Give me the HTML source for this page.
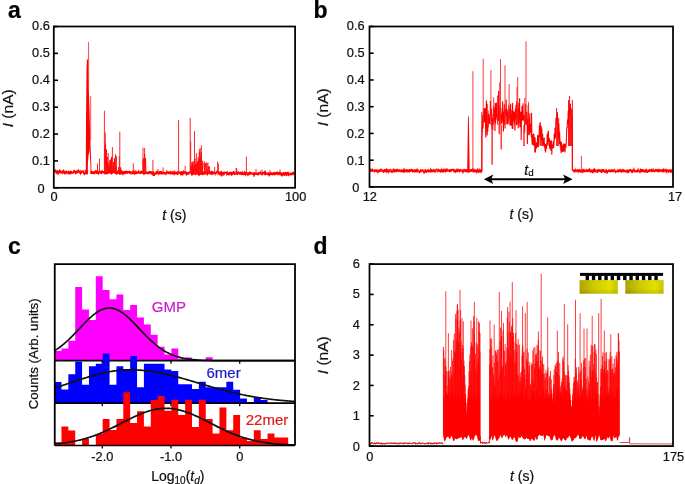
<!DOCTYPE html>
<html><head><meta charset="utf-8"><style>
html,body{margin:0;padding:0;background:#fff;}
svg{display:block;font-family:"Liberation Sans",sans-serif;will-change:transform;}
text{stroke-width:0.22px;}
</style></head><body>
<svg width="685" height="484" viewBox="0 0 685 484">
<rect width="685" height="484" fill="#fff"/>
<text x="14.5" y="18.3" font-size="23" text-anchor="middle" font-weight="bold" fill="#000" stroke="#000">a</text>
<text x="320.6" y="18.3" font-size="23" text-anchor="middle" font-weight="bold" fill="#000" stroke="#000">b</text>
<text x="14.3" y="254" font-size="23" text-anchor="middle" font-weight="bold" fill="#000" stroke="#000">c</text>
<text x="320.5" y="254.4" font-size="23" text-anchor="middle" font-weight="bold" fill="#000" stroke="#000">d</text>
<polyline points="54.3,171.4 54.5,170.55 54.7,170.5 54.9,171.78 55.1,171.75 55.3,171.07 55.5,172.27 55.7,170.47 55.9,170.81 56.1,173.09 56.3,172.49 56.5,170.53 56.7,172.63 56.9,172.31 57.1,173.03 57.3,172.28 57.5,172.81 57.7,170.73 57.9,170.85 58.1,172.6 58.3,173.31 58.5,172.36 58.7,173.19 58.9,172.6 59.1,172.54 59.3,171.31 59.5,170.42 59.7,170.74 59.9,170.79 60.1,173.31 60.3,172.22 60.5,173.29 60.7,171.57 60.9,170.87 61.1,171.15 61.3,172.3 61.5,171.61 61.7,172.71 61.9,172.66 62.1,173.01 62.3,171.7 62.5,172.52 62.7,171.08 62.9,170.92 63.1,170.71 63.3,173.34 63.5,171.23 63.7,170.79 63.9,171.96 64.1,170.72 64.3,173.2 64.5,173.61 64.7,173.55 64.9,173.71 65.1,171.27 65.3,173.01 65.5,171.51 65.7,173.74 65.9,173.17 66.1,172.15 66.3,170.49 66.5,172.75 66.7,173.58 66.9,171.64 67.1,171.07 67.3,173.46 67.5,172.62 67.7,172.65 67.9,172.96 68.1,173.09 68.3,173.71 68.5,173.63 68.7,170.84 68.9,173.15 69.1,173.75 69.3,172.28 69.5,173.72 69.7,173.59 69.9,173.23 70.1,171.42 70.3,171.3 70.5,173.52 70.7,172.41 70.9,173.55 71.1,173.31 71.3,173.05 71.5,171.02 71.7,172.33 71.9,172.32 72.1,172.34 72.3,173.06 72.5,173.02 72.7,172.52 72.9,172.8 73.1,172.07 73.3,173.43 73.5,172.35 73.7,170.91 73.9,170.7 74.1,172.73 74.3,170.98 74.5,170.94 74.7,171.2 74.9,172.11 75.1,171.01 75.3,171.61 75.5,174.3 75.7,172.79 75.9,172.59 76.1,173.82 76.3,170.82 76.5,173.12 76.7,171.91 76.9,171.35 77.1,172.41 77.3,170.67 77.5,170.72 77.7,173.2 77.9,170.71 78.1,171.63 78.3,171.39 78.5,171.29 78.7,170.66 78.9,171.52 79.1,172.19 79.3,170.55 79.5,172.98 79.7,172.11 79.9,173.28 80.1,173.33 80.3,172.84 80.5,173.33 80.7,171.88 80.9,170.94 81.1,171.37 81.3,173.37 81.5,171.47 81.7,172.07 81.9,171.4 82.1,172.37 82.3,171.57 82.5,171.81 82.7,171.2 82.9,171.42 83.1,171.42 83.3,171.31 83.5,173.07 83.7,173.51 83.9,173.87 84.1,172.71 84.3,173.56 84.5,173.29 84.7,172.25 84.9,173.34 85.1,172.86 85.3,170.64 85.5,170.89 85.7,172.67 85.9,174.2 86.1,173.09 86.3,172.78 86.5,171.4 86.7,173.03 86.9,173.86 87.1,172.18 87.3,172.65 87.5,171.05 87.7,171.59 87.9,170.76 88.1,172.91 88.3,172.31 88.5,170.96 88.7,173.89 88.9,172.12 89.1,172.09 89.3,173.78 89.5,171.05 89.7,171.02 89.9,173.58 90.1,173.62 90.3,170.58 90.5,171.6 90.7,171.65 90.9,173.13 91.1,173.73 91.3,171.57 91.5,173.98 91.7,172.04 91.9,170.93 92.1,173.77 92.3,172.32 92.5,173.84 92.7,172.74 92.9,172.46 93.1,173.08 93.3,172.79 93.5,173.75 93.7,171.77 93.9,173.92 94.1,171.62 94.3,171.17 94.5,173.68 94.7,173.69 94.9,171.08 95.1,171.77 95.3,171.49 95.5,173.16 95.7,172.39 95.9,170.83 96.1,171.04 96.3,173.55 96.5,171.46 96.7,173.86 96.9,170.7 97.1,173.67 97.3,170.63 97.5,173.43 97.7,171.47 97.9,172.41 98.1,173.08 98.3,172.19 98.5,173.29 98.7,172.83 98.9,171.49 99.1,171.02 99.3,172.62 99.5,173.44 99.7,172.21 99.9,173.65 100.1,171.49 100.3,172.94 100.5,172.94 100.7,172.92 100.9,170.77 101.1,172.97 101.3,173.17 101.5,173.95 101.7,171.44 101.9,171.66 102.1,171.3 102.3,172.92 102.5,172 102.7,171.15 102.9,172 103.1,173.16 103.3,171.79 103.5,173.21 103.7,171.96 103.9,171.95 104.1,171.87 104.3,173.96 104.5,173.47 104.7,170.85 104.9,173.81 105.1,173.73 105.3,173.44 105.5,170.8 105.7,171.56 105.9,171.84 106.1,172.79 106.3,171.77 106.5,173.26 106.7,174.49 106.9,172.31 107.1,172.01 107.3,172.38 107.5,173.43 107.7,173.33 107.9,171.79 108.1,170.97 108.3,171.55 108.5,172.59 108.7,173.71 108.9,171 109.1,173.13 109.3,172.13 109.5,173.26 109.7,171.13 109.9,172.65 110.1,171.4 110.3,171.24 110.5,171.83 110.7,172.45 110.9,172.95 111.1,172.34 111.3,173.84 111.5,171.14 111.7,172.71 111.9,173.68 112.1,173.38 112.3,172.76 112.5,171.99 112.7,171.61 112.9,172.25 113.1,173.05 113.3,171.44 113.5,170.96 113.7,172.62 113.9,171.3 114.1,171.71 114.3,171.81 114.5,172.17 114.7,171.99 114.9,173.7 115.1,172.2 115.3,173.76 115.5,170.81 115.7,173.86 115.9,172.02 116.1,171.73 116.3,171.14 116.5,174.06 116.7,173.98 116.9,170.95 117.1,173.85 117.3,171.32 117.5,172.15 117.7,171.4 117.9,172.54 118.1,171.62 118.3,170.92 118.5,170.91 118.7,172.82 118.9,171.83 119.1,172.23 119.3,173.83 119.5,172.45 119.7,173.44 119.9,172.4 120.1,172.26 120.3,172.53 120.5,171.08 120.7,172.54 120.9,172.09 121.1,173.72 121.3,173.57 121.5,172.48 121.7,171.37 121.9,171.03 122.1,171.35 122.3,173.58 122.5,173.94 122.7,172.53 122.9,171.43 123.1,173.13 123.3,173.49 123.5,172.98 123.7,172.71 123.9,171.18 124.1,172.16 124.3,174.19 124.5,173.43 124.7,173.36 124.9,171.69 125.1,172.82 125.3,170.84 125.5,172.93 125.7,173.88 125.9,173.06 126.1,172.05 126.3,171.6 126.5,171.54 126.7,171.3 126.9,171.35 127.1,173.81 127.3,173.36 127.5,172.76 127.7,172.36 127.9,171.7 128.1,172.66 128.3,171.05 128.5,172.73 128.7,171.54 128.9,173.04 129.1,171.91 129.3,173.89 129.5,170.89 129.7,172.45 129.9,171.64 130.1,171 130.3,173.23 130.5,171.78 130.7,173.55 130.9,173.06 131.1,174.52 131.3,171.68 131.5,173.42 131.7,172 131.9,173.03 132.1,174.21 132.3,173.26 132.5,173.35 132.7,171.61 132.9,173.99 133.1,171.25 133.3,171.48 133.5,173.25 133.7,173.4 133.9,172.13 134.1,173.93 134.3,174.01 134.5,171.6 134.7,173.79 134.9,173.71 135.1,171.25 135.3,171.6 135.5,170.98 135.7,173.34 135.9,174.19 136.1,173.02 136.3,172.4 136.5,173.31 136.7,173.85 136.9,172 137.1,173.51 137.3,172.59 137.5,171.55 137.7,173.75 137.9,171.89 138.1,172.62 138.3,171.21 138.5,173.61 138.7,172.3 138.9,171.23 139.1,171.64 139.3,172.64 139.5,171.73 139.7,173.51 139.9,172.13 140.1,173.81 140.3,171.52 140.5,172.92 140.7,173.96 140.9,171.97 141.1,171.48 141.3,172.06 141.5,172.07 141.7,173.43 141.9,171.3 142.1,173.66 142.3,171.63 142.5,171.66 142.7,172.32 142.9,172.67 143.1,171.45 143.3,173.49 143.5,172.92 143.7,171.75 143.9,173.6 144.1,173.28 144.3,172.04 144.5,172.4 144.7,173.12 144.9,172.53 145.1,173.28 145.3,173.21 145.5,172.65 145.7,172.83 145.9,174.19 146.1,172.94 146.3,172.73 146.5,172.77 146.7,171.71 146.9,173.59 147.1,172.2 147.3,173.4 147.5,172.43 147.7,171.9 147.9,174.2 148.1,173.73 148.3,171.44 148.5,173.16 148.7,171.78 148.9,173.18 149.1,172.6 149.3,171.44 149.5,173.91 149.7,171.88 149.9,171.03 150.1,171.85 150.3,172.48 150.5,172.25 150.7,171.22 150.9,173.69 151.1,173.21 151.3,174.26 151.5,171.37 151.7,173.67 151.9,174.11 152.1,174.06 152.3,173.31 152.5,173.89 152.7,172.84 152.9,174.04 153.1,171.84 153.3,171.24 153.5,172.71 153.7,176.08 153.9,172.64 154.1,173.91 154.3,174.32 154.5,174.74 154.7,173.37 154.9,174.39 155.1,174.11 155.3,173.18 155.5,172.3 155.7,173.68 155.9,172.5 156.1,172.06 156.3,172.78 156.5,174.38 156.7,172.19 156.9,173.06 157.1,171.21 157.3,172.93 157.5,171.09 157.7,173.14 157.9,174.17 158.1,173.21 158.3,173.39 158.5,172.64 158.7,171.7 158.9,174.19 159.1,173.88 159.3,171.96 159.5,172.17 159.7,174.27 159.9,171.23 160.1,173.05 160.3,171.14 160.5,174.28 160.7,172.5 160.9,171.82 161.1,171.12 161.3,174.39 161.5,173.34 161.7,171.93 161.9,171.28 162.1,174.02 162.3,173.25 162.5,174.28 162.7,173.59 162.9,173.33 163.1,172.17 163.3,174.04 163.5,172.37 163.7,173.42 163.9,172.36 164.1,172.54 164.3,174.34 164.5,172.12 164.7,173.52 164.9,173.19 165.1,173.17 165.3,174.15 165.5,173.18 165.7,172.76 165.9,172.57 166.1,174.15 166.3,173.9 166.5,172.07 166.7,173.47 166.9,171.43 167.1,171.83 167.3,171.94 167.5,172.73 167.7,173.7 167.9,171.45 168.1,171.94 168.3,174.16 168.5,173.16 168.7,171.77 168.9,173.08 169.1,171.67 169.3,172.43 169.5,173.84 169.7,172.34 169.9,171.28 170.1,172.82 170.3,173.82 170.5,173.78 170.7,172.04 170.9,171.79 171.1,173.07 171.3,174.4 171.5,173.21 171.7,174.44 171.9,173.36 172.1,172.52 172.3,174.47 172.5,171.32 172.7,174.26 172.9,171.35 173.1,173.39 173.3,171.68 173.5,173.49 173.7,173.77 173.9,172.07 174.1,171.77 174.3,175.3 174.5,171.86 174.7,171.95 174.9,174.22 175.1,171.53 175.3,173.34 175.5,174.01 175.7,171.69 175.9,173.64 176.1,174.17 176.3,171.74 176.5,172.35 176.7,172.3 176.9,174.55 177.1,173.49 177.3,172.19 177.5,172.46 177.7,174.37 177.9,174.27 178.1,172.23 178.3,173.97 178.5,171.24 178.7,171.86 178.9,171.98 179.1,171.85 179.3,171.9 179.5,173.31 179.7,171.94 179.9,174 180.1,171.47 180.3,173.7 180.5,172.38 180.7,175.2 180.9,172.87 181.1,171.88 181.3,171.81 181.5,171.27 181.7,173.01 181.9,174.03 182.1,173.68 182.3,171.47 182.5,172.94 182.7,175.51 182.9,172.02 183.1,172.12 183.3,171.59 183.5,171.33 183.7,173.05 183.9,174.23 184.1,171.69 184.3,172.22 184.5,171.74 184.7,171.78 184.9,171.84 185.1,172.6 185.3,173.07 185.5,173.92 185.7,172.42 185.9,174.02 186.1,174.17 186.3,174.55 186.5,172.73 186.7,173.1 186.9,173.36 187.1,174.59 187.3,173.45 187.5,174.31 187.7,172.2 187.9,173.14 188.1,172.15 188.3,174.54 188.5,173.51 188.7,174.56 188.9,172.89 189.1,171.73 189.3,172.69 189.5,171.61 189.7,173.39 189.9,172 190.1,173.18 190.3,172.37 190.5,173.06 190.7,171.36 190.9,172.13 191.1,172.29 191.3,173.95 191.5,174.29 191.7,172.65 191.9,171.7 192.1,173.84 192.3,172.53 192.5,174.22 192.7,173.85 192.9,172.95 193.1,174.45 193.3,171.36 193.5,173.03 193.7,172.76 193.9,173.41 194.1,172.9 194.3,172.68 194.5,172.44 194.7,173.05 194.9,172.39 195.1,173.33 195.3,172.46 195.5,174.62 195.7,174.57 195.9,173.28 196.1,173.99 196.3,173.12 196.5,172.69 196.7,172.56 196.9,173.15 197.1,172.73 197.3,174.36 197.5,172.87 197.7,172.54 197.9,171.96 198.1,174.18 198.3,174.42 198.5,174.75 198.7,171.91 198.9,173.1 199.1,173.53 199.3,174.76 199.5,172.79 199.7,174.5 199.9,174.25 200.1,172.06 200.3,172.3 200.5,174.78 200.7,171.81 200.9,171.76 201.1,173.18 201.3,174.14 201.5,174.02 201.7,172.61 201.9,171.74 202.1,172.59 202.3,171.59 202.5,174.67 202.7,172.26 202.9,174.32 203.1,174.19 203.3,174.68 203.5,172.24 203.7,172.17 203.9,173.07 204.1,172.01 204.3,174.73 204.5,171.81 204.7,172.8 204.9,174.23 205.1,172.08 205.3,171.55 205.5,171.96 205.7,172.35 205.9,172.94 206.1,171.98 206.3,172.72 206.5,174.67 206.7,172.98 206.9,172.33 207.1,172.69 207.3,172.17 207.5,173.19 207.7,174.07 207.9,173.38 208.1,171.74 208.3,172.54 208.5,173.36 208.7,172.47 208.9,172.23 209.1,172.42 209.3,174.09 209.5,171.91 209.7,173.77 209.9,172.87 210.1,172.31 210.3,173.61 210.5,174.57 210.7,171.61 210.9,172.15 211.1,171.61 211.3,172.09 211.5,173.91 211.7,173.8 211.9,174.32 212.1,171.63 212.3,171.64 212.5,174.17 212.7,174.03 212.9,172.83 213.1,172.44 213.3,172.93 213.5,174 213.7,173.03 213.9,172.95 214.1,171.93 214.3,173.89 214.5,173.36 214.7,173.35 214.9,172.72 215.1,172.56 215.3,173.78 215.5,173.26 215.7,172.7 215.9,171.99 216.1,174.28 216.3,172.09 216.5,173.08 216.7,171.9 216.9,172.22 217.1,172.19 217.3,171.9 217.5,172.76 217.7,171.56 217.9,171.81 218.1,173.44 218.3,173 218.5,171.56 218.7,173.66 218.9,172.39 219.1,171.63 219.3,172.54 219.5,174.41 219.7,174.21 219.9,172.65 220.1,172.63 220.3,172.8 220.5,171.68 220.7,174.33 220.9,174.76 221.1,172.08 221.3,171.82 221.5,173.06 221.7,171.69 221.9,176.11 222.1,174.46 222.3,172.52 222.5,172.99 222.7,173.82 222.9,172.12 223.1,173.48 223.3,171.85 223.5,174.87 223.7,174.88 223.9,174.33 224.1,173.64 224.3,174.81 224.5,172.59 224.7,171.67 224.9,173.1 225.1,172.84 225.3,173.38 225.5,171.97 225.7,173.45 225.9,172.45 226.1,172.44 226.3,172.36 226.5,173.33 226.7,172.98 226.9,174.53 227.1,174.17 227.3,174.05 227.5,172.93 227.7,173.51 227.9,174.24 228.1,174.35 228.3,172.33 228.5,173.05 228.7,174.57 228.9,174.57 229.1,172.77 229.3,174.42 229.5,174.12 229.7,171.76 229.9,173.48 230.1,174.76 230.3,172.27 230.5,173.59 230.7,172 230.9,173.51 231.1,172.92 231.3,173.45 231.5,175.71 231.7,172.14 231.9,174.35 232.1,174.41 232.3,173.25 232.5,172.97 232.7,171.89 232.9,174.68 233.1,172.21 233.3,173.6 233.5,171.66 233.7,171.71 233.9,171.8 234.1,172.57 234.3,172.54 234.5,174.9 234.7,173.56 234.9,174.28 235.1,172.89 235.3,174.62 235.5,172.69 235.7,173.39 235.9,173.53 236.1,172.81 236.3,173.3 236.5,172.46 236.7,171.69 236.9,173.18 237.1,172.24 237.3,172.72 237.5,174.86 237.7,173.66 237.9,173.65 238.1,174.31 238.3,171.91 238.5,172.62 238.7,172.24 238.9,172.42 239.1,173.73 239.3,172.35 239.5,173.73 239.7,174.66 239.9,172.33 240.1,173.87 240.3,172.8 240.5,173.07 240.7,171.89 240.9,173.83 241.1,173.73 241.3,171.74 241.5,175.06 241.7,174.16 241.9,172.23 242.1,172.01 242.3,173.54 242.5,173.94 242.7,174.23 242.9,174.31 243.1,174.34 243.3,172.66 243.5,173.35 243.7,173.94 243.9,175.08 244.1,172.36 244.3,171.93 244.5,172.34 244.7,172.23 244.9,174.86 245.1,174.37 245.3,173.42 245.5,174.45 245.7,174.8 245.9,171.96 246.1,174.67 246.3,173.13 246.5,173.87 246.7,172.63 246.9,172.43 247.1,172.76 247.3,173.68 247.5,174.7 247.7,174.54 247.9,173.4 248.1,174.07 248.3,173.72 248.5,174.76 248.7,174.69 248.9,175.14 249.1,172.14 249.3,174.86 249.5,172.09 249.7,172.07 249.9,174.2 250.1,171.88 250.3,174.11 250.5,172.55 250.7,171.84 250.9,174.76 251.1,172.23 251.3,174.1 251.5,173.48 251.7,173.46 251.9,172.51 252.1,174.27 252.3,172.68 252.5,173.51 252.7,174.74 252.9,174.01 253.1,174.13 253.3,174.23 253.5,173.21 253.7,173.1 253.9,176.71 254.1,174.94 254.3,173.08 254.5,172.19 254.7,174.89 254.9,172.9 255.1,172.87 255.3,174.34 255.5,173.82 255.7,173.95 255.9,174.23 256.1,173.89 256.3,173.95 256.5,173.89 256.7,173.42 256.9,173.44 257.1,174.97 257.3,173.61 257.5,172.41 257.7,174 257.9,174.77 258.1,174.65 258.3,172.35 258.5,173.04 258.7,173.37 258.9,175.22 259.1,173.46 259.3,172.34 259.5,173.6 259.7,172.99 259.9,172.52 260.1,172.45 260.3,172.94 260.5,172.15 260.7,172.53 260.9,173.95 261.1,173.35 261.3,172.85 261.5,174.61 261.7,173.82 261.9,175.16 262.1,174.12 262.3,174.43 262.5,173.55 262.7,171.95 262.9,173.43 263.1,173.47 263.3,173.53 263.5,174.14 263.7,172 263.9,174.48 264.1,172.62 264.3,172.22 264.5,173.79 264.7,174.29 264.9,174.22 265.1,175.27 265.3,172.37 265.5,171.9 265.7,172.77 265.9,174.8 266.1,173.31 266.3,174.83 266.5,172.76 266.7,173.71 266.9,173.55 267.1,174.62 267.3,173.78 267.5,173.71 267.7,173 267.9,172.89 268.1,173.91 268.3,173.41 268.5,173.38 268.7,174.84 268.9,172.52 269.1,174.63 269.3,174.2 269.5,174.76 269.7,172.61 269.9,174.58 270.1,174.15 270.3,174.25 270.5,174.28 270.7,172.92 270.9,173 271.1,175.02 271.3,172.44 271.5,173.26 271.7,174.1 271.9,172.25 272.1,173.39 272.3,174.75 272.5,175.32 272.7,172.92 272.9,173.62 273.1,173.58 273.3,173.78 273.5,172.86 273.7,172.71 273.9,173.98 274.1,175.15 274.3,173.08 274.5,174.47 274.7,172.96 274.9,172.27 275.1,173.98 275.3,173.7 275.5,172.4 275.7,173.23 275.9,172.53 276.1,174.82 276.3,172.47 276.5,172.36 276.7,172.36 276.9,173.78 277.1,172.64 277.3,172.4 277.5,173.67 277.7,175.18 277.9,173.91 278.1,174.52 278.3,172.08 278.5,172.97 278.7,173.94 278.9,174.64 279.1,172.82 279.3,172.12 279.5,174.75 279.7,173.56 279.9,175.18 280.1,172.29 280.3,174.3 280.5,172.47 280.7,173.12 280.9,174.69 281.1,174.65 281.3,174.16 281.5,174.87 281.7,174.44 281.9,175.29 282.1,172.46 282.3,175.08 282.5,174.73 282.7,174.81 282.9,173.03 283.1,175.23 283.3,174.69 283.5,172.8 283.7,172.82 283.9,174.35 284.1,174.68 284.3,175.22 284.5,172.32 284.7,173.18 284.9,175.94 285.1,172.08 285.3,173.45 285.5,173.17 285.7,174.9 285.9,172.33 286.1,173.54 286.3,172.44 286.5,174.83 286.7,175.29 286.9,175.06 287.1,173.38 287.3,173.76 287.5,174.87 287.7,172.05 287.9,173.59 288.1,173.25 288.3,174.98 288.5,175.21 288.7,172.31 288.9,175.31 289.1,174.2 289.3,174.36 289.5,173.29 289.7,174.9 289.9,173.58 290.1,174.54 290.3,173.17 290.5,175.1 290.7,174.03 290.9,174.61 291.1,174.66 291.3,173.5 291.5,174.81 291.7,175.35 291.9,173.02 292.1,174.89 292.3,172.55 292.5,172.63 292.7,173.14 292.9,173.39 293.1,172.72 293.3,172.76 293.5,172.46 293.7,173.4 293.9,172.78 294.1,174.94 294.3,173.16 294.5,173.69" fill="none" stroke="#f00" stroke-width="1.25" stroke-linejoin="miter"/>
<polygon points="87.9,176 88,160 88.7,154 89.5,152 90.2,160 90.4,176" fill="#fff" stroke="none" stroke-width="0"/>
<polygon points="85.8,174.2 86,120 86.5,72 86.9,59.5 88.2,59.5 88.5,80 89.7,115 90.2,140 89.5,150 88.6,155 87.9,163 87.8,174.2" fill="#f00" stroke="none" stroke-width="0"/>
<polygon points="89,148 90.3,138 90.9,155 91.4,168 91.6,173 90.7,173 90.3,162 89.7,153" fill="#f00" stroke="none" stroke-width="0"/>
<line x1="88.6" y1="90" x2="88.6" y2="42" stroke="#f33" stroke-width="0.9"/>
<line x1="90.7" y1="140" x2="90.7" y2="96" stroke="#f22" stroke-width="0.8"/>
<polyline points="104.5,146.54 104.95,171.33 105.4,143.48 105.85,173.25 106.3,149.41 106.75,171.37 107.2,156.82 107.65,171.28 108.1,162.8 108.55,170.62 109,166.57 109.45,172.2 109.9,160.25 110.35,173.32 110.8,159.32 111.25,171.23 111.7,156.88 112.15,172.15 112.6,166.75 113.05,172.53 113.5,162.28 113.95,172.92 114.4,158.36 114.85,171.42 115.3,166.43 115.75,173.4 116.2,167.47 116.65,172.58 117.1,170.64 117.55,171.68 118,174.16 118.45,172.73 118.9,167.07 119.35,171.68 119.8,174.85 120.25,171.55 120.7,167.46 121.15,173.11" fill="none" stroke="#f00" stroke-width="0.9" stroke-linejoin="miter"/>
<polyline points="142.8,160.32 143.25,172.06 143.7,157.94 144.15,173.2 144.6,154.34 145.05,171.52 145.5,158.16 145.95,171.74" fill="none" stroke="#f00" stroke-width="0.9" stroke-linejoin="miter"/>
<polyline points="190.4,165.02 190.85,173.06 191.3,166.18 191.75,172.23 192.2,163.04 192.65,172.22 193.1,161.24 193.55,173.03 194,165.88 194.45,173.02 194.9,158.61 195.35,172.51 195.8,163.74 196.25,172 196.7,164.28 197.15,173.2 197.6,161.53 198.05,172.96 198.5,159.24 198.95,173.14 199.4,152.51 199.85,172.61 200.3,156.44 200.75,172.34 201.2,151.95 201.65,170.7 202.1,160.63 202.55,172.97 203,162.73" fill="none" stroke="#f00" stroke-width="0.9" stroke-linejoin="miter"/>
<polyline points="204,163.28 204.8,171.17 205.6,163.36 206.4,172.53 207.2,169.45 208,172.91 208.8,166.56 209.6,172.6" fill="none" stroke="#f00" stroke-width="0.9" stroke-linejoin="miter"/>
<line x1="97.5" y1="173" x2="97.5" y2="163.6" stroke="#f11" stroke-width="0.9"/>
<line x1="99.5" y1="173" x2="99.5" y2="158.7" stroke="#f11" stroke-width="0.9"/>
<line x1="104.4" y1="173" x2="104.4" y2="110.7" stroke="#f11" stroke-width="0.9"/>
<line x1="105.3" y1="173" x2="105.3" y2="132.4" stroke="#f11" stroke-width="0.9"/>
<line x1="108.2" y1="173" x2="108.2" y2="152.9" stroke="#f11" stroke-width="0.9"/>
<line x1="112.4" y1="173" x2="112.4" y2="147.1" stroke="#f11" stroke-width="0.9"/>
<line x1="115.5" y1="173" x2="115.5" y2="154.2" stroke="#f11" stroke-width="0.9"/>
<line x1="116.5" y1="173" x2="116.5" y2="156.2" stroke="#f11" stroke-width="0.9"/>
<line x1="119.3" y1="173" x2="119.3" y2="156" stroke="#f11" stroke-width="0.9"/>
<line x1="119.8" y1="173" x2="119.8" y2="131.7" stroke="#f11" stroke-width="0.9"/>
<line x1="133.3" y1="173" x2="133.3" y2="163.3" stroke="#f11" stroke-width="0.9"/>
<line x1="143" y1="173" x2="143" y2="147.6" stroke="#f11" stroke-width="0.9"/>
<line x1="144.6" y1="173" x2="144.6" y2="148" stroke="#f11" stroke-width="0.9"/>
<line x1="152.9" y1="173" x2="152.9" y2="159.8" stroke="#f11" stroke-width="0.9"/>
<line x1="157.8" y1="173" x2="157.8" y2="169" stroke="#f11" stroke-width="0.9"/>
<line x1="163.1" y1="173" x2="163.1" y2="167.4" stroke="#f11" stroke-width="0.9"/>
<line x1="178.6" y1="173" x2="178.6" y2="119.8" stroke="#f11" stroke-width="0.9"/>
<line x1="185.2" y1="173" x2="185.2" y2="165.8" stroke="#f11" stroke-width="0.9"/>
<line x1="190.2" y1="173" x2="190.2" y2="117.9" stroke="#f11" stroke-width="0.9"/>
<line x1="190.7" y1="173" x2="190.7" y2="141.3" stroke="#f11" stroke-width="0.9"/>
<line x1="191.8" y1="173" x2="191.8" y2="162" stroke="#f11" stroke-width="0.9"/>
<line x1="194.5" y1="173" x2="194.5" y2="131.1" stroke="#f11" stroke-width="0.9"/>
<line x1="196.4" y1="173" x2="196.4" y2="153.2" stroke="#f11" stroke-width="0.9"/>
<line x1="198.1" y1="173" x2="198.1" y2="157" stroke="#f11" stroke-width="0.9"/>
<line x1="199.4" y1="173" x2="199.4" y2="149.3" stroke="#f11" stroke-width="0.9"/>
<line x1="200.2" y1="173" x2="200.2" y2="148" stroke="#f11" stroke-width="0.9"/>
<line x1="201.4" y1="173" x2="201.4" y2="145.5" stroke="#f11" stroke-width="0.9"/>
<line x1="204.4" y1="173" x2="204.4" y2="161.2" stroke="#f11" stroke-width="0.9"/>
<line x1="206.4" y1="173" x2="206.4" y2="162.5" stroke="#f11" stroke-width="0.9"/>
<line x1="207.2" y1="173" x2="207.2" y2="163" stroke="#f11" stroke-width="0.9"/>
<line x1="208" y1="173" x2="208" y2="162.5" stroke="#f11" stroke-width="0.9"/>
<line x1="209.2" y1="173" x2="209.2" y2="166" stroke="#f11" stroke-width="0.9"/>
<line x1="214.6" y1="173" x2="214.6" y2="167" stroke="#f11" stroke-width="0.9"/>
<line x1="217.6" y1="173" x2="217.6" y2="161.5" stroke="#f11" stroke-width="0.9"/>
<line x1="218.4" y1="173" x2="218.4" y2="163.6" stroke="#f11" stroke-width="0.9"/>
<line x1="236.1" y1="173" x2="236.1" y2="167.8" stroke="#f11" stroke-width="0.9"/>
<line x1="236.7" y1="173" x2="236.7" y2="168" stroke="#f11" stroke-width="0.9"/>
<line x1="246.4" y1="173" x2="246.4" y2="156.5" stroke="#f11" stroke-width="0.9"/>
<line x1="256" y1="173" x2="256" y2="169" stroke="#f11" stroke-width="0.9"/>
<line x1="262" y1="173" x2="262" y2="169.5" stroke="#f11" stroke-width="0.9"/>
<line x1="270" y1="173" x2="270" y2="170" stroke="#f11" stroke-width="0.9"/>
<line x1="280" y1="173" x2="280" y2="169.5" stroke="#f11" stroke-width="0.9"/>
<rect x="53.8" y="26.5" width="241.3" height="161.3" fill="none" stroke="#000" stroke-width="1.75"/>
<line x1="53.8" y1="187.8" x2="58" y2="187.8" stroke="#000" stroke-width="1.6"/>
<text x="41" y="192.55" font-size="12.8" text-anchor="middle" font-weight="normal" fill="#111" stroke="#111">0</text>
<line x1="53.8" y1="160.92" x2="58" y2="160.92" stroke="#000" stroke-width="1.6"/>
<text x="41" y="165.47" font-size="12.8" text-anchor="middle" font-weight="normal" fill="#111" stroke="#111">0.1</text>
<line x1="53.8" y1="134.03" x2="58" y2="134.03" stroke="#000" stroke-width="1.6"/>
<text x="41" y="138.38" font-size="12.8" text-anchor="middle" font-weight="normal" fill="#111" stroke="#111">0.2</text>
<line x1="53.8" y1="107.15" x2="58" y2="107.15" stroke="#000" stroke-width="1.6"/>
<text x="41" y="111.3" font-size="12.8" text-anchor="middle" font-weight="normal" fill="#111" stroke="#111">0.3</text>
<line x1="53.8" y1="80.27" x2="58" y2="80.27" stroke="#000" stroke-width="1.6"/>
<text x="41" y="84.22" font-size="12.8" text-anchor="middle" font-weight="normal" fill="#111" stroke="#111">0.4</text>
<line x1="53.8" y1="53.38" x2="58" y2="53.38" stroke="#000" stroke-width="1.6"/>
<text x="41" y="57.13" font-size="12.8" text-anchor="middle" font-weight="normal" fill="#111" stroke="#111">0.5</text>
<line x1="53.8" y1="26.5" x2="58" y2="26.5" stroke="#000" stroke-width="1.6"/>
<text x="41" y="30.05" font-size="12.8" text-anchor="middle" font-weight="normal" fill="#111" stroke="#111">0.6</text>
<text x="54.1" y="201.1" font-size="12.8" text-anchor="middle" font-weight="normal" fill="#111" stroke="#111">0</text>
<text x="295.6" y="201.1" font-size="12.8" text-anchor="middle" font-weight="normal" fill="#111" stroke="#111">100</text>
<text x="174.4" y="219.8" font-size="14" text-anchor="middle" fill="#111" stroke="#111"><tspan font-style="italic">t</tspan> (s)</text>
<text x="12.7" y="108.3" font-size="15.5" text-anchor="middle" fill="#111" stroke="#111" transform="rotate(-90 12.7 108.3)"><tspan font-style="italic">I</tspan> (nA)</text>
<polyline points="370,169.35 370.2,171.95 370.4,170.21 370.6,169.11 370.8,171.24 371,169.57 371.2,170.04 371.4,169.3 371.6,170.62 371.8,170.99 372,171.85 372.2,169.23 372.4,171.91 372.6,169.48 372.8,169.86 373,171.24 373.2,170.26 373.4,170.23 373.6,171.03 373.8,169.84 374,171.8 374.2,169.81 374.4,171.95 374.6,171.85 374.8,170.93 375,169.2 375.2,171.75 375.4,169.2 375.6,170.82 375.8,170.54 376,169.31 376.2,171.24 376.4,171.56 376.6,171.09 376.8,170.46 377,170.84 377.2,171.1 377.4,169.87 377.6,172.05 377.8,172.49 378,171.83 378.2,172.37 378.4,170.22 378.6,172.45 378.8,169.34 379,170.72 379.2,169.55 379.4,170.64 379.6,171.42 379.8,171.51 380,170.65 380.2,170.26 380.4,169.75 380.6,170.47 380.8,170.06 381,169.76 381.2,171.6 381.4,170.86 381.6,170.59 381.8,169.77 382,171.49 382.2,169.77 382.4,170 382.6,171 382.8,171.48 383,172.41 383.2,171.64 383.4,172.32 383.6,172.23 383.8,171.56 384,171.55 384.2,169.31 384.4,169.8 384.6,169.14 384.8,172.04 385,171.55 385.2,171.24 385.4,170 385.6,170.31 385.8,169.66 386,171.25 386.2,172.47 386.4,170.14 386.6,169.25 386.8,169.7 387,170.31 387.2,172.16 387.4,171.84 387.6,170.65 387.8,169.45 388,169.46 388.2,169.62 388.4,171.74 388.6,170.7 388.8,172.47 389,172.2 389.2,171.8 389.4,170.72 389.6,171.89 389.8,169.54 390,169.47 390.2,171.02 390.4,170.83 390.6,169.81 390.8,169.96 391,169.17 391.2,172.19 391.4,171.51 391.6,172.31 391.8,172.43 392,170.58 392.2,171.59 392.4,170.41 392.6,171.86 392.8,171.96 393,169.56 393.2,169.14 393.4,169.83 393.6,171.09 393.8,170.39 394,169.13 394.2,171.92 394.4,171.77 394.6,170.68 394.8,169.25 395,172.12 395.2,170.92 395.4,169.34 395.6,170.2 395.8,171.22 396,172.11 396.2,170.75 396.4,171.27 396.6,169.8 396.8,169.93 397,172.18 397.2,170.4 397.4,169.45 397.6,171.11 397.8,169.53 398,169.78 398.2,170.65 398.4,171.09 398.6,171.26 398.8,171.5 399,170.59 399.2,169.33 399.4,171.56 399.6,169.28 399.8,170.7 400,170.46 400.2,171.39 400.4,171.53 400.6,169.92 400.8,171.31 401,171.45 401.2,170.7 401.4,169.58 401.6,172.19 401.8,171.14 402,169.31 402.2,169.91 402.4,172.46 402.6,169.88 402.8,170.43 403,171.78 403.2,171.9 403.4,171.26 403.6,171.62 403.8,169.23 404,169.42 404.2,172.42 404.4,171.83 404.6,169.23 404.8,169.27 405,169.92 405.2,172.26 405.4,169.85 405.6,171.38 405.8,172.26 406,171.27 406.2,172.23 406.4,169.99 406.6,169.62 406.8,169.16 407,171.67 407.2,169.45 407.4,172.41 407.6,171.51 407.8,169.74 408,171.84 408.2,169.65 408.4,170.84 408.6,169.46 408.8,171.78 409,172.12 409.2,172.22 409.4,169.11 409.6,171.99 409.8,170.99 410,171.89 410.2,170.81 410.4,171.21 410.6,171.12 410.8,171.82 411,169.36 411.2,169.28 411.4,170.95 411.6,170.09 411.8,170.45 412,169.13 412.2,171.63 412.4,169.18 412.6,171.92 412.8,171.86 413,170.66 413.2,169.52 413.4,171.31 413.6,169.8 413.8,170.56 414,169.48 414.2,172.42 414.4,170.96 414.6,170.3 414.8,169.42 415,171.58 415.2,171.99 415.4,171.98 415.6,169.44 415.8,170.35 416,170.13 416.2,171.69 416.4,169.6 416.6,171.16 416.8,172.43 417,171.71 417.2,169.12 417.4,169.35 417.6,169.49 417.8,171.45 418,171.14 418.2,170.87 418.4,170.65 418.6,170.49 418.8,171.18 419,171.31 419.2,172.22 419.4,171.59 419.6,171.81 419.8,172.2 420,171.95 420.2,171.54 420.4,169.2 420.6,171.41 420.8,171.99 421,170.56 421.2,172.09 421.4,169.71 421.6,172.31 421.8,170.6 422,171.5 422.2,169.96 422.4,170.12 422.6,170.28 422.8,170.2 423,169.42 423.2,170.61 423.4,172.43 423.6,171.32 423.8,172.27 424,171.69 424.2,171.95 424.4,172.48 424.6,171.66 424.8,170.03 425,169.95 425.2,170.5 425.4,169.17 425.6,169.88 425.8,172.11 426,172.23 426.2,170.22 426.4,171.72 426.6,171.73 426.8,172.13 427,171.8 427.2,170.91 427.4,169.46 427.6,171.91 427.8,170.17 428,171.23 428.2,170.35 428.4,170.93 428.6,172.38 428.8,169.65 429,170.91 429.2,171.31 429.4,170.93 429.6,172.29 429.8,170.49 430,172.21 430.2,171.45 430.4,172.39 430.6,169.4 430.8,169.82 431,170.08 431.2,172.18 431.4,169.15 431.6,169.98 431.8,171.53 432,172.46 432.2,169.7 432.4,170.59 432.6,171.44 432.8,171.45 433,171.64 433.2,171.66 433.4,169.94 433.6,169.97 433.8,169.19 434,171.45 434.2,169.81 434.4,169.98 434.6,172.38 434.8,171.29 435,171.11 435.2,171.33 435.4,171.13 435.6,171.46 435.8,170.13 436,169.32 436.2,169.33 436.4,169.15 436.6,170.33 436.8,169.58 437,169.48 437.2,170.78 437.4,172.4 437.6,171.44 437.8,170.03 438,171.72 438.2,169.7 438.4,169.44 438.6,170.13 438.8,170.49 439,171.44 439.2,170.61 439.4,171.58 439.6,169.42 439.8,172.27 440,170.26 440.2,171.93 440.4,169.2 440.6,171.92 440.8,169.87 441,172.01 441.2,171.83 441.4,171.38 441.6,170.04 441.8,169.13 442,169.75 442.2,172.18 442.4,169.64 442.6,171.34 442.8,171.1 443,171.35 443.2,169.71 443.4,169.59 443.6,169.43 443.8,172.44 444,170.4 444.2,171.32 444.4,171.04 444.6,169.86 444.8,169.32 445,169.15 445.2,172 445.4,169.54 445.6,172.37 445.8,170.34 446,171.56 446.2,169.57 446.4,171.78 446.6,169.96 446.8,170.35 447,170.88 447.2,169.48 447.4,169.94 447.6,171.81 447.8,170.07 448,170.39 448.2,171.7 448.4,169.86 448.6,169.76 448.8,169.84 449,170.41 449.2,170.34 449.4,171.28 449.6,170.7 449.8,172.06 450,169.27 450.2,171.36 450.4,171.94 450.6,169.9 450.8,169.2 451,170.59 451.2,169.49 451.4,170.66 451.6,171.52 451.8,169.42 452,169.5 452.2,170.73 452.4,169.69 452.6,169.88 452.8,170.6 453,169.5 453.2,169.33 453.4,170.33 453.6,170.7 453.8,172.28 454,170.99 454.2,169.34 454.4,169.86 454.6,171.63 454.8,171.01 455,172.06 455.2,172.37 455.4,172.02 455.6,169.47 455.8,172.31 456,170.88 456.2,169.92 456.4,169.68 456.6,172.04 456.8,169.82 457,169.38 457.2,170 457.4,172.24 457.6,170.67 457.8,171.59 458,169.35 458.2,170.64 458.4,170.18 458.6,169.8 458.8,171.35 459,170.33 459.2,169.51 459.4,172.45 459.6,170.74 459.8,169.71 460,169.14 460.2,171.32 460.4,170.85 460.6,169.18 460.8,170.7 461,171.62 461.2,170.93 461.4,169.9 461.6,170.8 461.8,171.16 462,171.31 462.2,169.59 462.4,171.83 462.6,172.31 462.8,171.62 463,172.01 463.2,170.35 463.4,172.17 463.6,169.72 463.8,169.87 464,171.13 464.2,172.17 464.4,169.38 464.6,169.84 464.8,169.22 465,170.59 465.2,169.58 465.4,169.75 465.6,171.65 465.8,171.08 466,172.29 466.2,170.47 466.4,171.41 466.6,169.14 466.8,172.32 467,169.89 467.2,170.72 467.4,170.84 467.6,172.32 467.8,170.77 468,172.47 468.2,171.21 468.4,169.84 468.6,171.94 468.8,169.79 469,172.5 469.2,170.65 469.4,169.87 469.6,172.37 469.8,170.19 470,170.48 470.2,170.27 470.4,171.37 470.6,169.18 470.8,170.37 471,169.65 471.2,171.92 471.4,169.1 471.6,171.17 471.8,169.98 472,170.64 472.2,171.01 472.4,171.52 472.6,169.57 472.8,169.92 473,169.51 473.2,172.36 473.4,169.61 473.6,169.57 473.8,170.88 474,171.08 474.2,172.11 474.4,169.29 474.6,169.9 474.8,169.67 475,171.09 475.2,170.64 475.4,170.49 475.6,172.12 475.8,171.35 476,172.02 476.2,172.35 476.4,170.01 476.6,172.3 476.8,170.49 477,169.28 477.2,172.21 477.4,169.45 477.6,169.16 477.8,170.08 478,170.08 478.2,172.39 478.4,172.06 478.6,170.53 478.8,170.9 479,171.99 479.2,171.84 479.4,171.32 479.6,170.84 479.8,169.5 480,169.93 480.2,171.34 480.4,171.09 480.6,171.82 480.8,172.16 481,172.37 481.2,169.76 481.4,169.36 481.6,172.15 481.8,171.04 482,126.98 482.2,132.88 482.4,121.36 482.6,127.31 482.8,114.77 483,128.41 483.2,119.62 483.4,118.05 483.6,120.1 483.8,109.37 484,108.64 484.2,122.41 484.4,120.48 484.6,118.94 484.8,107.91 485,121.58 485.2,116.62 485.4,108.2 485.6,127.89 485.8,137.51 486,120.3 486.2,113.22 486.4,100.5 486.6,127.35 486.8,120.93 487,126.63 487.2,135.39 487.4,114.4 487.6,119.91 487.8,131.46 488,110.77 488.2,127.45 488.4,118.65 488.6,113.94 488.8,119.03 489,123.53 489.2,117.71 489.4,120.03 489.6,123.22 489.8,123.96 490,114.81 490.2,119.15 490.4,100.74 490.6,107.9 490.8,110.68 491,113.8 491.2,114.81 491.4,108.87 491.6,121.33 491.8,125.36 492,129.09 492.2,118.27 492.4,120.99 492.6,123.38 492.8,130.16 493,113.39 493.2,122.51 493.4,106.48 493.6,107.98 493.8,106.83 494,121.5 494.2,115.05 494.4,116.8 494.6,109.18 494.8,115.4 495,130.97 495.2,103.05 495.4,106.32 495.6,123.33 495.8,107.9 496,115.95 496.2,116.77 496.4,102.55 496.6,112.43 496.8,114.76 497,118.2 497.2,120.08 497.4,115.13 497.6,114.66 497.8,114.14 498,115.55 498.2,121.04 498.4,108.76 498.6,91.11 498.8,118.45 499,114.86 499.2,134.16 499.4,105.57 499.6,118.55 499.8,120.02 500,106.88 500.2,112.99 500.4,105.88 500.6,118.64 500.8,113.85 501,116.75 501.2,118.22 501.4,116.46 501.6,123.64 501.8,120.24 502,111.89 502.2,107.94 502.4,117.44 502.6,101.18 502.8,108.79 503,122.02 503.2,121.14 503.4,131.51 503.6,111.52 503.8,113.01 504,121.18 504.2,124.41 504.4,104.17 504.6,122.64 504.8,115.9 505,128.6 505.2,115.18 505.4,110.53 505.6,109.4 505.8,111.23 506,110.09 506.2,99.62 506.4,115.54 506.6,108.21 506.8,124.15 507,120.75 507.2,109.86 507.4,112.21 507.6,117.85 507.8,124.23 508,123.13 508.2,121.38 508.4,114.41 508.6,120.47 508.8,105.04 509,118.85 509.2,113.82 509.4,112.13 509.6,113.26 509.8,108.44 510,111.24 510.2,125.74 510.4,110.16 510.6,103.64 510.8,118.93 511,111.12 511.2,109.81 511.4,125.78 511.6,114.12 511.8,119.33 512,116.62 512.2,128.65 512.4,120.69 512.6,102.88 512.8,128.91 513,110.83 513.2,112 513.4,121.42 513.6,114.19 513.8,111.95 514,111.96 514.2,112.49 514.4,124.34 514.6,117.86 514.8,126.09 515,130.6 515.2,121.56 515.4,108.45 515.6,116.31 515.8,118.97 516,104.87 516.2,114.64 516.4,106.51 516.6,125.3 516.8,101.09 517,112.73 517.2,117.95 517.4,117.5 517.6,108.3 517.8,121.95 518,115.55 518.2,128.27 518.4,117.19 518.6,123.2 518.8,102.95 519,118.04 519.2,117.23 519.4,108.25 519.6,98.18 519.8,122.73 520,127.17 520.2,111.87 520.4,123.97 520.6,122.4 520.8,112.37 521,111.73 521.2,140 521.4,122.54 521.6,120.83 521.8,114.8 522,105.82 522.2,119.82 522.4,116.42 522.6,120.49 522.8,117.61 523,103.16 523.2,114.4 523.4,119.14 523.6,114.9 523.8,120.24 524,120.66 524.2,117.58 524.4,114.98 524.6,132.62 524.8,121.45 525,122.01 525.2,123.77 525.4,121.57 525.6,103.92 525.8,116.62 526,122.54 526.2,124.77 526.4,121.24 526.6,111.72 526.8,118.52 527,124.7 527.2,122.22 527.4,144.01 527.6,126.47 527.8,126.21 528,120.95 528.2,104.68 528.4,130.98 528.6,118.17 528.8,135.26 529,121.54 529.2,122.91 529.4,134.96 529.6,123.34 529.8,113.28 530,131.16 530.2,131.81 530.4,132.1 530.6,127.97 530.8,132.14 531,123.83 531.2,130.95 531.4,137.06 531.6,112.64 531.8,137.3 532,141.66 532.2,144.72 532.4,134.63 532.6,140.11 532.8,137.76 533,134.17 533.2,141.61 533.4,145 533.6,145.1 533.8,133.53 534,141.42 534.2,142.11 534.4,143.32 534.6,137.11 534.8,152.49 535,137.5 535.2,140.37 535.4,152.46 535.6,146.67 535.8,142.43 536,143.14 536.2,148.73 536.4,142.44 536.6,148.01 536.8,146.52 537,145.63 537.2,146.95 537.4,140.2 537.6,136.11 537.8,134.75 538,141.32 538.2,137.43 538.4,147.17 538.6,135.45 538.8,144.89 539,135.97 539.2,135.19 539.4,125.51 539.6,131.93 539.8,136.97 540,123.08 540.2,133.39 540.4,131.2 540.6,132.79 540.8,125.81 541,138 541.2,127.62 541.4,140.37 541.6,139.79 541.8,128.63 542,143.56 542.2,146.01 542.4,139.18 542.6,133.84 542.8,140.07 543,140.3 543.2,145.65 543.4,138.6 543.6,139.35 543.8,144.71 544,145.73 544.2,137.49 544.4,147.34 544.6,143.73 544.8,144.71 545,149.7 545.2,149.42 545.4,147.98 545.6,152.57 545.8,145.74 546,144.13 546.2,144.87 546.4,148.95 546.6,144.88 546.8,142.9 547,145.21 547.2,134.03 547.4,143.9 547.6,142.38 547.8,137.29 548,132.35 548.2,132.4 548.4,130.78 548.6,141.8 548.8,140.4 549,137.82 549.2,145.79 549.4,138.78 549.6,147.55 549.8,147.23 550,146.84 550.2,140.71 550.4,141.45 550.6,146.51 550.8,150.68 551,142.26 551.2,147.57 551.4,150.46 551.6,140.15 551.8,154.83 552,146.5 552.2,145.38 552.4,148.45 552.6,147.13 552.8,144.21 553,145.67 553.2,145.83 553.4,141.21 553.6,148.21 553.8,145.49 554,144.54 554.2,133.79 554.4,137.13 554.6,139.83 554.8,136.07 555,127.8 555.2,134.1 555.4,138.12 555.6,131.75 555.8,124.8 556,117.92 556.2,124.26 556.4,119.91 556.6,113.86 556.8,115.24 557,121.09 557.2,118.82 557.4,117.95 557.6,117.4 557.8,121.86 558,123.51 558.2,124.04 558.4,139.09 558.6,124.16 558.8,124.24 559,129.89 559.2,137.79 559.4,143.92 559.6,131.66 559.8,137.62 560,144 560.2,140.59 560.4,147.45 560.6,144.87 560.8,150.76 561,147.07 561.2,153.23 561.4,141.8 561.6,151.3 561.8,145.76 562,151.69 562.2,145.34 562.4,150.87 562.6,151.92 562.8,149.16 563,144.21 563.2,145.55 563.4,146.07 563.6,147.11 563.8,151.59 564,143.35 564.2,147.17 564.4,147.78 564.6,147.58 564.8,144.06 565,152.25 565.2,147.09 565.4,144.27 565.6,145.74 565.8,148.22 566,143.8 566.2,143.84 566.4,139.17 566.6,133.48 566.8,127.58 567,127.45 567.2,128.27 567.4,120.24 567.6,123.27 567.8,119.13 568,124.44 568.2,110.85 568.4,124.39 568.6,116.87 568.8,110.54 569,110.55 569.2,115.68 569.4,112.24 569.6,108.31 569.8,107.11 570,103.61 570.2,109.7 570.4,111.43 570.6,108.48 570.8,109.86 571,107.92 571.2,112.36 571.4,114.78 571.6,109.55 571.8,117.53 572,115.19 572.2,118.97 572.4,169.84 572.6,169.39 572.8,169.76 573,170.17 573.2,170.82 573.4,169.72 573.6,170.73 573.8,170.6 574,172.41 574.2,170.75 574.4,172.31 574.6,170.7 574.8,169.77 575,171.11 575.2,169.59 575.4,169.68 575.6,169.35 575.8,171.48 576,172.39 576.2,170.47 576.4,170.3 576.6,170.55 576.8,170.3 577,171.45 577.2,170.43 577.4,169.62 577.6,172.04 577.8,171.05 578,169.12 578.2,171.99 578.4,171.58 578.6,170.31 578.8,171.24 579,172.23 579.2,170.47 579.4,170.57 579.6,170.11 579.8,170.98 580,171.35 580.2,171.6 580.4,172.33 580.6,169.59 580.8,170.34 581,172 581.2,171.79 581.4,171.11 581.6,171.4 581.8,170.26 582,172.31 582.2,170.97 582.4,170.47 582.6,169.72 582.8,169.49 583,172.15 583.2,171.82 583.4,169.19 583.6,170.2 583.8,170.73 584,170.79 584.2,170.34 584.4,172.14 584.6,170.29 584.8,170.91 585,172.26 585.2,171.27 585.4,170.72 585.6,170.23 585.8,170.42 586,171.17 586.2,171.77 586.4,169.99 586.6,170.36 586.8,170.42 587,170.33 587.2,172.2 587.4,170.93 587.6,170.04 587.8,170.23 588,171.89 588.2,169.64 588.4,171.45 588.6,169.17 588.8,169.76 589,169.3 589.2,171.84 589.4,169.6 589.6,169.88 589.8,169.3 590,170 590.2,171.59 590.4,171.55 590.6,172.2 590.8,172.32 591,170.97 591.2,172.23 591.4,169.4 591.6,172.25 591.8,170.58 592,169.76 592.2,171.64 592.4,172.02 592.6,170.41 592.8,169.42 593,172.07 593.2,171.66 593.4,171.13 593.6,172.42 593.8,169.23 594,169.29 594.2,169.52 594.4,169.17 594.6,171.51 594.8,171.24 595,169.48 595.2,169.65 595.4,169.72 595.6,171.17 595.8,171.39 596,172.4 596.2,170.33 596.4,172.43 596.6,170.58 596.8,170.43 597,169.96 597.2,169.89 597.4,172.41 597.6,172.48 597.8,171.5 598,169.7 598.2,169.71 598.4,169.62 598.6,170.29 598.8,171.61 599,169.3 599.2,170.9 599.4,171.41 599.6,169.21 599.8,170.59 600,171.79 600.2,171.06 600.4,170.64 600.6,172.1 600.8,171.14 601,170.25 601.2,170.45 601.4,172.31 601.6,172.02 601.8,172.21 602,171.01 602.2,169.58 602.4,169.7 602.6,170.4 602.8,171.45 603,169.12 603.2,171.83 603.4,171.77 603.6,170.85 603.8,169.12 604,171.81 604.2,170.51 604.4,171.38 604.6,171.04 604.8,171.58 605,170.49 605.2,172.36 605.4,172.35 605.6,172.26 605.8,171.19 606,170.18 606.2,170.38 606.4,170.01 606.6,172.17 606.8,171.79 607,171.78 607.2,171.89 607.4,172.47 607.6,171.44 607.8,170.18 608,171.68 608.2,169.99 608.4,171.18 608.6,169.64 608.8,172.02 609,170.76 609.2,170.04 609.4,172.24 609.6,169.38 609.8,172.26 610,171.67 610.2,169.61 610.4,171.69 610.6,171.05 610.8,172.18 611,171.09 611.2,170.55 611.4,172.27 611.6,169.4 611.8,171.74 612,169.45 612.2,170.04 612.4,169.49 612.6,172.06 612.8,170.6 613,171.57 613.2,169.97 613.4,171.58 613.6,171.31 613.8,169.43 614,170.78 614.2,171.55 614.4,169.83 614.6,171.32 614.8,170.04 615,170.36 615.2,172.23 615.4,172.31 615.6,172.49 615.8,170.55 616,171.04 616.2,171.85 616.4,171.68 616.6,170.65 616.8,172.04 617,170.46 617.2,172.33 617.4,170.71 617.6,169.5 617.8,171.65 618,169.59 618.2,171.41 618.4,169.28 618.6,172.46 618.8,170.94 619,171.62 619.2,169.55 619.4,171.27 619.6,170.38 619.8,169.95 620,171.87 620.2,169.21 620.4,170.72 620.6,169.4 620.8,171.99 621,172.14 621.2,169.22 621.4,170.68 621.6,170.69 621.8,171.54 622,171.58 622.2,170.27 622.4,172.27 622.6,169.73 622.8,169.56 623,171.87 623.2,169.51 623.4,169.73 623.6,170.8 623.8,170.24 624,169.66 624.2,172.26 624.4,170.71 624.6,171.77 624.8,169.95 625,172.2 625.2,169.85 625.4,172.18 625.6,171.18 625.8,172.4 626,171.72 626.2,171.24 626.4,170.91 626.6,172.01 626.8,170.61 627,169.43 627.2,172.21 627.4,171.84 627.6,171.42 627.8,171.63 628,169.89 628.2,170.68 628.4,171.9 628.6,172.37 628.8,172.24 629,169.65 629.2,171.43 629.4,170.98 629.6,170.48 629.8,169.67 630,169.57 630.2,170.7 630.4,170.78 630.6,170.01 630.8,170.35 631,170.98 631.2,171.69 631.4,171.1 631.6,169.65 631.8,172.11 632,170.35 632.2,172.36 632.4,172.44 632.6,169.58 632.8,171.08 633,172.39 633.2,170.41 633.4,170.96 633.6,170.17 633.8,169.2 634,169.8 634.2,169.52 634.4,170.07 634.6,171.24 634.8,171.01 635,172.32 635.2,171.43 635.4,170.33 635.6,172.33 635.8,171.26 636,170.95 636.2,172.03 636.4,171.38 636.6,170.33 636.8,171.16 637,170.12 637.2,172.4 637.4,169.93 637.6,172.41 637.8,169.32 638,169.13 638.2,170.98 638.4,169.8 638.6,170.83 638.8,169.5 639,171.95 639.2,171.37 639.4,171.43 639.6,172.25 639.8,172.47 640,171.41 640.2,171.52 640.4,169.11 640.6,169.27 640.8,170.55 641,172.39 641.2,170.16 641.4,171.03 641.6,169.13 641.8,170.51 642,172.17 642.2,171.1 642.4,171.9 642.6,169.14 642.8,169.79 643,169.71 643.2,171.93 643.4,169.45 643.6,172.27 643.8,170.01 644,172.09 644.2,170.85 644.4,170.2 644.6,172.39 644.8,170.48 645,171.47 645.2,169.33 645.4,171.92 645.6,172.44 645.8,169.48 646,171.64 646.2,170.02 646.4,169.6 646.6,170.34 646.8,171.35 647,172.34 647.2,172.48 647.4,172.48 647.6,171.22 647.8,171.32 648,169.65 648.2,171.57 648.4,170.97 648.6,170.32 648.8,172.16 649,169.97 649.2,169.58 649.4,169.64 649.6,169.61 649.8,171.1 650,171.82 650.2,169.64 650.4,170.81 650.6,171.05 650.8,171.01 651,170.5 651.2,170.95 651.4,169.15 651.6,169.3 651.8,170.54 652,169.9 652.2,171.67 652.4,169.92 652.6,171.9 652.8,169.92 653,169.41 653.2,170.72 653.4,170.42 653.6,170.24 653.8,171.7 654,169.86 654.2,171.38 654.4,171.94 654.6,170.64 654.8,170.81 655,172.24 655.2,171.15 655.4,169.72 655.6,169.34 655.8,169.38 656,170.23 656.2,169.4 656.4,171.31 656.6,170.54 656.8,170.15 657,170.84 657.2,172.28 657.4,169.93 657.6,169.63 657.8,170.14 658,170.2 658.2,172.19 658.4,171.5 658.6,170.56 658.8,169.66 659,169.25 659.2,169.52 659.4,171.98 659.6,171.3 659.8,169.63 660,171.23 660.2,169.3 660.4,170.82 660.6,170.24 660.8,169.45 661,171.62 661.2,171.54 661.4,170.84 661.6,169.67 661.8,171.38 662,170.57 662.2,171.35 662.4,169.41 662.6,172.17 662.8,169.11 663,169.86 663.2,170.45 663.4,169.77 663.6,169.4 663.8,171.44 664,172.48 664.2,170.24 664.4,170.01 664.6,171.38 664.8,169.86 665,170.46 665.2,171.44 665.4,170.56 665.6,169.63 665.8,169.34 666,170.95 666.2,172.47 666.4,172.23 666.6,169.44 666.8,170.81 667,170.76 667.2,169.76 667.4,171.38 667.6,170.79 667.8,171.85 668,170.09 668.2,172.28 668.4,171.87 668.6,170.71 668.8,169.58 669,170.74 669.2,169.53 669.4,171.43 669.6,171.47 669.8,171.07 670,172.42 670.2,169.25 670.4,171.53 670.6,171.82 670.8,169.48 671,170.19 671.2,169.28 671.4,171.08 671.6,171.56 671.8,170.28 672,171.46 672.2,170.35 672.4,171.52" fill="none" stroke="#f00" stroke-width="1.1" stroke-linejoin="miter"/>
<line x1="540.3" y1="146" x2="540.3" y2="122" stroke="#f00" stroke-width="0.9"/>
<line x1="541" y1="146" x2="541" y2="126" stroke="#f00" stroke-width="0.9"/>
<line x1="547.9" y1="146" x2="547.9" y2="136" stroke="#f00" stroke-width="0.9"/>
<line x1="556.6" y1="146" x2="556.6" y2="108" stroke="#f00" stroke-width="0.9"/>
<line x1="557.5" y1="146" x2="557.5" y2="112" stroke="#f00" stroke-width="0.9"/>
<line x1="558.7" y1="146" x2="558.7" y2="118" stroke="#f00" stroke-width="0.9"/>
<line x1="568.5" y1="146" x2="568.5" y2="100" stroke="#f00" stroke-width="0.9"/>
<line x1="569.5" y1="146" x2="569.5" y2="96" stroke="#f00" stroke-width="0.9"/>
<line x1="570.5" y1="146" x2="570.5" y2="104" stroke="#f00" stroke-width="0.9"/>
<line x1="571.5" y1="146" x2="571.5" y2="112" stroke="#f00" stroke-width="0.9"/>
<line x1="523.8" y1="146" x2="523.8" y2="145" stroke="#f00" stroke-width="0.9"/>
<line x1="524.5" y1="146" x2="524.5" y2="145" stroke="#f00" stroke-width="0.9"/>
<polygon points="467.2,171 468,116.5 468.8,116.5 469.7,171" fill="#f00" stroke="none" stroke-width="0"/>
<line x1="472.9" y1="170.6" x2="472.9" y2="71.2" stroke="#f22" stroke-width="0.9"/>
<line x1="483.2" y1="125" x2="483.2" y2="58.8" stroke="#f22" stroke-width="0.9"/>
<line x1="490.9" y1="125" x2="490.9" y2="70" stroke="#f22" stroke-width="0.9"/>
<line x1="500.5" y1="125" x2="500.5" y2="59.1" stroke="#f22" stroke-width="0.9"/>
<line x1="505" y1="125" x2="505" y2="65.4" stroke="#f22" stroke-width="0.9"/>
<line x1="499.7" y1="125" x2="499.7" y2="82.3" stroke="#f22" stroke-width="0.9"/>
<line x1="509.1" y1="125" x2="509.1" y2="84" stroke="#f22" stroke-width="0.9"/>
<line x1="517.7" y1="125" x2="517.7" y2="77" stroke="#f22" stroke-width="0.9"/>
<line x1="517" y1="125" x2="517" y2="87.2" stroke="#f22" stroke-width="0.9"/>
<line x1="526" y1="125" x2="526" y2="41.3" stroke="#f22" stroke-width="0.9"/>
<line x1="524.8" y1="125" x2="524.8" y2="98" stroke="#f22" stroke-width="0.9"/>
<line x1="528.6" y1="125" x2="528.6" y2="101.8" stroke="#f22" stroke-width="0.9"/>
<line x1="493.7" y1="125" x2="493.7" y2="97.5" stroke="#f22" stroke-width="0.9"/>
<line x1="487.6" y1="125" x2="487.6" y2="103.8" stroke="#f22" stroke-width="0.9"/>
<line x1="497.5" y1="125" x2="497.5" y2="95.5" stroke="#f22" stroke-width="0.9"/>
<line x1="492.1" y1="125" x2="492.1" y2="164.6" stroke="#f22" stroke-width="0.9"/>
<line x1="501.2" y1="125" x2="501.2" y2="149.4" stroke="#f22" stroke-width="0.9"/>
<line x1="524" y1="125" x2="524" y2="145" stroke="#f22" stroke-width="0.9"/>
<line x1="581.4" y1="170.6" x2="581.4" y2="155.9" stroke="#f22" stroke-width="0.9"/>
<line x1="492.1" y1="125" x2="492.1" y2="164.6" stroke="#f22" stroke-width="0.9"/>
<line x1="501.2" y1="125" x2="501.2" y2="149.4" stroke="#f22" stroke-width="0.9"/>
<line x1="524" y1="125" x2="524" y2="145" stroke="#f22" stroke-width="0.9"/>
<line x1="481.8" y1="171" x2="481.8" y2="112" stroke="#f00" stroke-width="0.9"/>
<line x1="572.4" y1="171" x2="572.4" y2="100" stroke="#f00" stroke-width="0.9"/>
<rect x="369.5" y="26.5" width="303.5" height="160.4" fill="none" stroke="#000" stroke-width="1.75"/>
<line x1="369.5" y1="186.9" x2="373.7" y2="186.9" stroke="#000" stroke-width="1.6"/>
<text x="355.7" y="192" font-size="12.8" text-anchor="middle" font-weight="normal" fill="#111" stroke="#111">0</text>
<line x1="369.5" y1="160.17" x2="373.7" y2="160.17" stroke="#000" stroke-width="1.6"/>
<text x="355.7" y="164.93" font-size="12.8" text-anchor="middle" font-weight="normal" fill="#111" stroke="#111">0.1</text>
<line x1="369.5" y1="133.43" x2="373.7" y2="133.43" stroke="#000" stroke-width="1.6"/>
<text x="355.7" y="137.85" font-size="12.8" text-anchor="middle" font-weight="normal" fill="#111" stroke="#111">0.2</text>
<line x1="369.5" y1="106.7" x2="373.7" y2="106.7" stroke="#000" stroke-width="1.6"/>
<text x="355.7" y="110.78" font-size="12.8" text-anchor="middle" font-weight="normal" fill="#111" stroke="#111">0.3</text>
<line x1="369.5" y1="79.97" x2="373.7" y2="79.97" stroke="#000" stroke-width="1.6"/>
<text x="355.7" y="83.71" font-size="12.8" text-anchor="middle" font-weight="normal" fill="#111" stroke="#111">0.4</text>
<line x1="369.5" y1="53.23" x2="373.7" y2="53.23" stroke="#000" stroke-width="1.6"/>
<text x="355.7" y="56.63" font-size="12.8" text-anchor="middle" font-weight="normal" fill="#111" stroke="#111">0.5</text>
<line x1="369.5" y1="26.5" x2="373.7" y2="26.5" stroke="#000" stroke-width="1.6"/>
<text x="355.7" y="29.56" font-size="12.8" text-anchor="middle" font-weight="normal" fill="#111" stroke="#111">0.6</text>
<text x="369.8" y="201" font-size="12.8" text-anchor="middle" font-weight="normal" fill="#111" stroke="#111">12</text>
<text x="675" y="201" font-size="12.8" text-anchor="middle" font-weight="normal" fill="#111" stroke="#111">17</text>
<text x="521.5" y="218.8" font-size="14" text-anchor="middle" fill="#111" stroke="#111"><tspan font-style="italic">t</tspan> (s)</text>
<text x="327.8" y="107.3" font-size="15.5" text-anchor="middle" fill="#111" stroke="#111" transform="rotate(-90 327.8 107.3)"><tspan font-style="italic">I</tspan> (nA)</text>
<line x1="490" y1="179.2" x2="566" y2="179.2" stroke="#000" stroke-width="1.9"/>
<polygon points="483.8,179.2 493.3,174.4 491.2,179.2 493.3,184" fill="#000" stroke="none" stroke-width="0"/>
<polygon points="572.6,179.2 563.1,174.4 565.2,179.2 563.1,184" fill="#000" stroke="none" stroke-width="0"/>
<text x="524.3" y="174.8" font-size="14" fill="#111" stroke="#111"><tspan font-style="italic">t</tspan><tspan font-size="9.8" dy="1.2">d</tspan></text>
<path d="M54.75,360.7V351H61.47V360.7ZM61.47,360.7V348.5H68.34V360.7ZM68.34,360.7V340.7H75.21V360.7ZM75.21,360.7V286.9H82.08V360.7ZM82.08,360.7V309.4H88.95V360.7ZM88.95,360.7V320H95.82V360.7ZM95.82,360.7V276.2H102.69V360.7ZM102.69,360.7V289.9H109.56V360.7ZM109.56,360.7V299.2H116.43V360.7ZM116.43,360.7V294.4H123.3V360.7ZM123.3,360.7V310H130.17V360.7ZM130.17,360.7V305H137.04V360.7ZM137.04,360.7V317.4H143.91V360.7ZM143.91,360.7V324.6H150.78V360.7ZM150.78,360.7V334.7H157.65V360.7ZM157.65,360.7V346.7H164.52V360.7ZM164.52,360.7V354.6H171.39V360.7ZM171.39,360.7V348.4H178.26V360.7ZM178.26,360.7V359H185.13V360.7ZM185.13,360.7V357.5H192V360.7ZM205.74,360.7V357.3H212.61V360.7Z" fill="#f0f"/>
<polyline points="54.75,350.61 55.75,349.99 56.75,349.34 57.75,348.66 58.75,347.96 59.75,347.23 60.75,346.47 61.75,345.69 62.75,344.89 63.75,344.06 64.75,343.2 65.75,342.33 66.75,341.43 67.75,340.5 68.75,339.56 69.75,338.6 70.75,337.62 71.75,336.62 72.75,335.61 73.75,334.59 74.75,333.55 75.75,332.5 76.75,331.45 77.75,330.39 78.75,329.32 79.75,328.26 80.75,327.19 81.75,326.13 82.75,325.08 83.75,324.03 84.75,323 85.75,321.97 86.75,320.97 87.75,319.98 88.75,319.02 89.75,318.08 90.75,317.17 91.75,316.29 92.75,315.44 93.75,314.62 94.75,313.85 95.75,313.11 96.75,312.42 97.75,311.76 98.75,311.16 99.75,310.6 100.75,310.1 101.75,309.64 102.75,309.24 103.75,308.89 104.75,308.6 105.75,308.37 106.75,308.19 107.75,308.07 108.75,308.01 109.75,308.01 110.75,308.06 111.75,308.18 112.75,308.35 113.75,308.58 114.75,308.86 115.75,309.2 116.75,309.6 117.75,310.05 118.75,310.55 119.75,311.1 120.75,311.7 121.75,312.35 122.75,313.04 123.75,313.77 124.75,314.55 125.75,315.36 126.75,316.2 127.75,317.08 128.75,317.99 129.75,318.93 130.75,319.89 131.75,320.87 132.75,321.87 133.75,322.89 134.75,323.93 135.75,324.97 136.75,326.03 137.75,327.09 138.75,328.15 139.75,329.22 140.75,330.28 141.75,331.34 142.75,332.4 143.75,333.44 144.75,334.48 145.75,335.51 146.75,336.52 147.75,337.52 148.75,338.5 149.75,339.47 150.75,340.41 151.75,341.33 152.75,342.24 153.75,343.12 154.75,343.97 155.75,344.81 156.75,345.61 157.75,346.4 158.75,347.15 159.75,347.89 160.75,348.59 161.75,349.27 162.75,349.92 163.75,350.55 164.75,351.15 165.75,351.73 166.75,352.28 167.75,352.8 168.75,353.3 169.75,353.78 170.75,354.23 171.75,354.66 172.75,355.07 173.75,355.46 174.75,355.82 175.75,356.17 176.75,356.49 177.75,356.8 178.75,357.09 179.75,357.36 180.75,357.61 181.75,357.85 182.75,358.07 183.75,358.28 184.75,358.47 185.75,358.65 186.75,358.82 187.75,358.97 188.75,359.12 189.75,359.25 190.75,359.38 191.75,359.49 192.75,359.6 193.75,359.7 194.75,359.79 195.75,359.87 196.75,359.95 197.75,360.02 198.75,360.08 199.75,360.14 200.75,360.19 201.75,360.24 202.75,360.29 203.75,360.33 204.75,360.37 205.75,360.4 206.75,360.43 207.75,360.46 208.75,360.48 209.75,360.51 210.75,360.53 211.75,360.55 212.75,360.56 213.75,360.58 214.75,360.59 215.75,360.6 216.75,360.61 217.75,360.62 218.75,360.63 219.75,360.64 220.75,360.65 221.75,360.65 222.75,360.66 223.75,360.66 224.75,360.67 225.75,360.67 226.75,360.68 227.75,360.68 228.75,360.68 229.75,360.68 230.75,360.69 231.75,360.69 232.75,360.69 233.75,360.69 234.75,360.69 235.75,360.69 236.75,360.69 237.75,360.69 238.75,360.7 239.75,360.7 240.75,360.7 241.75,360.7 242.75,360.7 243.75,360.7 244.75,360.7 245.75,360.7 246.75,360.7 247.75,360.7 248.75,360.7 249.75,360.7 250.75,360.7 251.75,360.7 252.75,360.7 253.75,360.7 254.75,360.7 255.75,360.7 256.75,360.7 257.75,360.7 258.75,360.7 259.75,360.7 260.75,360.7 261.75,360.7 262.75,360.7 263.75,360.7 264.75,360.7 265.75,360.7 266.75,360.7 267.75,360.7 268.75,360.7 269.75,360.7 270.75,360.7 271.75,360.7 272.75,360.7 273.75,360.7 274.75,360.7 275.75,360.7 276.75,360.7 277.75,360.7 278.75,360.7 279.75,360.7 280.75,360.7 281.75,360.7 282.75,360.7 283.75,360.7 284.75,360.7 285.75,360.7 286.75,360.7 287.75,360.7 288.75,360.7 289.75,360.7 290.75,360.7 291.75,360.7 292.75,360.7 293.75,360.7 294.75,360.7" fill="none" stroke="#111" stroke-width="1.7" stroke-linejoin="round"/>
<line x1="54.75" y1="360.7" x2="295" y2="360.7" stroke="#000" stroke-width="1.7"/>
<line x1="102.3" y1="360.7" x2="102.3" y2="363.7" stroke="#000" stroke-width="1.3"/>
<line x1="171" y1="360.7" x2="171" y2="363.7" stroke="#000" stroke-width="1.3"/>
<line x1="239.7" y1="360.7" x2="239.7" y2="363.7" stroke="#000" stroke-width="1.3"/>
<path d="M54.75,403.2V382H61.47V403.2ZM61.47,403.2V389.6H68.34V403.2ZM68.34,403.2V374.2H75.21V403.2ZM75.21,403.2V361.5H82.08V403.2ZM82.08,403.2V384.7H88.95V403.2ZM88.95,403.2V366.3H95.82V403.2ZM95.82,403.2V363.7H102.69V403.2ZM102.69,403.2V353.5H109.56V403.2ZM109.56,403.2V384.7H116.43V403.2ZM116.43,403.2V366.3H123.3V403.2ZM123.3,403.2V368.9H130.17V403.2ZM130.17,403.2V356.1H137.04V403.2ZM137.04,403.2V387.3H143.91V403.2ZM143.91,403.2V363.7H150.78V403.2ZM150.78,403.2V363.7H157.65V403.2ZM157.65,403.2V363.7H164.52V403.2ZM164.52,403.2V369.6H171.39V403.2ZM171.39,403.2V371.1H178.26V403.2ZM178.26,403.2V384.3H185.13V403.2ZM185.13,403.2V384.3H192V403.2ZM192,403.2V388.9H198.87V403.2ZM198.87,403.2V381.8H205.74V403.2ZM205.74,403.2V387.3H212.61V403.2ZM212.61,403.2V387.3H219.48V403.2ZM219.48,403.2V387.3H226.35V403.2ZM226.35,403.2V381.8H233.22V403.2ZM233.22,403.2V389.7H240.09V403.2ZM240.09,403.2V398.5H246.96V403.2ZM246.96,403.2V402H253.83V403.2ZM253.83,403.2V397.5H260.7V403.2ZM260.7,403.2V400H267.57V403.2Z" fill="#00f"/>
<polyline points="54.75,387.99 55.75,387.67 56.75,387.35 57.75,387.02 58.75,386.7 59.75,386.37 60.75,386.04 61.75,385.71 62.75,385.38 63.75,385.04 64.75,384.71 65.75,384.37 66.75,384.04 67.75,383.7 68.75,383.36 69.75,383.03 70.75,382.69 71.75,382.35 72.75,382.01 73.75,381.68 74.75,381.34 75.75,381.01 76.75,380.67 77.75,380.34 78.75,380.01 79.75,379.68 80.75,379.35 81.75,379.03 82.75,378.7 83.75,378.38 84.75,378.07 85.75,377.75 86.75,377.44 87.75,377.13 88.75,376.83 89.75,376.53 90.75,376.23 91.75,375.94 92.75,375.65 93.75,375.37 94.75,375.09 95.75,374.82 96.75,374.55 97.75,374.29 98.75,374.04 99.75,373.79 100.75,373.54 101.75,373.3 102.75,373.07 103.75,372.85 104.75,372.63 105.75,372.42 106.75,372.22 107.75,372.02 108.75,371.83 109.75,371.65 110.75,371.48 111.75,371.31 112.75,371.15 113.75,371 114.75,370.86 115.75,370.73 116.75,370.6 117.75,370.49 118.75,370.38 119.75,370.28 120.75,370.19 121.75,370.11 122.75,370.04 123.75,369.98 124.75,369.93 125.75,369.88 126.75,369.85 127.75,369.82 128.75,369.81 129.75,369.8 130.75,369.8 131.75,369.81 132.75,369.83 133.75,369.85 134.75,369.88 135.75,369.92 136.75,369.96 137.75,370.02 138.75,370.08 139.75,370.14 140.75,370.21 141.75,370.29 142.75,370.38 143.75,370.48 144.75,370.58 145.75,370.68 146.75,370.8 147.75,370.92 148.75,371.05 149.75,371.18 150.75,371.32 151.75,371.47 152.75,371.62 153.75,371.78 154.75,371.94 155.75,372.11 156.75,372.29 157.75,372.47 158.75,372.66 159.75,372.85 160.75,373.05 161.75,373.25 162.75,373.46 163.75,373.67 164.75,373.89 165.75,374.11 166.75,374.34 167.75,374.57 168.75,374.81 169.75,375.05 170.75,375.29 171.75,375.54 172.75,375.79 173.75,376.04 174.75,376.3 175.75,376.56 176.75,376.83 177.75,377.1 178.75,377.37 179.75,377.64 180.75,377.92 181.75,378.2 182.75,378.48 183.75,378.76 184.75,379.05 185.75,379.33 186.75,379.62 187.75,379.91 188.75,380.2 189.75,380.5 190.75,380.79 191.75,381.09 192.75,381.38 193.75,381.68 194.75,381.97 195.75,382.27 196.75,382.57 197.75,382.87 198.75,383.17 199.75,383.46 200.75,383.76 201.75,384.06 202.75,384.35 203.75,384.65 204.75,384.95 205.75,385.24 206.75,385.53 207.75,385.83 208.75,386.12 209.75,386.41 210.75,386.7 211.75,386.99 212.75,387.27 213.75,387.56 214.75,387.84 215.75,388.12 216.75,388.4 217.75,388.67 218.75,388.95 219.75,389.22 220.75,389.49 221.75,389.76 222.75,390.02 223.75,390.29 224.75,390.55 225.75,390.81 226.75,391.06 227.75,391.31 228.75,391.56 229.75,391.81 230.75,392.06 231.75,392.3 232.75,392.54 233.75,392.77 234.75,393 235.75,393.23 236.75,393.46 237.75,393.68 238.75,393.9 239.75,394.12 240.75,394.33 241.75,394.54 242.75,394.75 243.75,394.96 244.75,395.16 245.75,395.36 246.75,395.55 247.75,395.74 248.75,395.93 249.75,396.12 250.75,396.3 251.75,396.48 252.75,396.65 253.75,396.82 254.75,396.99 255.75,397.16 256.75,397.32 257.75,397.48 258.75,397.64 259.75,397.79 260.75,397.94 261.75,398.09 262.75,398.23 263.75,398.37 264.75,398.51 265.75,398.65 266.75,398.78 267.75,398.91 268.75,399.03 269.75,399.16 270.75,399.28 271.75,399.4 272.75,399.51 273.75,399.62 274.75,399.73 275.75,399.84 276.75,399.95 277.75,400.05 278.75,400.15 279.75,400.24 280.75,400.34 281.75,400.43 282.75,400.52 283.75,400.61 284.75,400.69 285.75,400.78 286.75,400.86 287.75,400.93 288.75,401.01 289.75,401.09 290.75,401.16 291.75,401.23 292.75,401.3 293.75,401.36 294.75,401.43" fill="none" stroke="#111" stroke-width="1.7" stroke-linejoin="round"/>
<line x1="54.75" y1="403.2" x2="295" y2="403.2" stroke="#000" stroke-width="1.7"/>
<line x1="102.3" y1="403.2" x2="102.3" y2="406.2" stroke="#000" stroke-width="1.3"/>
<line x1="171" y1="403.2" x2="171" y2="406.2" stroke="#000" stroke-width="1.3"/>
<line x1="239.7" y1="403.2" x2="239.7" y2="406.2" stroke="#000" stroke-width="1.3"/>
<path d="M54.75,445.5V442.2H61.47V445.5ZM61.47,445.5V426.4H68.34V445.5ZM68.34,445.5V430.5H75.21V445.5ZM82.08,445.5V438.7H88.95V445.5ZM95.82,445.5V434H102.69V445.5ZM102.69,445.5V418.9H109.56V445.5ZM109.56,445.5V430H116.43V445.5ZM116.43,445.5V418.9H123.3V445.5ZM123.3,445.5V392.3H130.17V445.5ZM130.17,445.5V422.9H137.04V445.5ZM137.04,445.5V411.2H143.91V445.5ZM143.91,445.5V426.4H150.78V445.5ZM150.78,445.5V400.1H157.65V445.5ZM157.65,445.5V396.1H164.52V445.5ZM164.52,445.5V410.8H171.39V445.5ZM171.39,445.5V399.7H178.26V445.5ZM178.26,445.5V415.1H185.13V445.5ZM185.13,445.5V399.7H192V445.5ZM192,445.5V426.9H198.87V445.5ZM198.87,445.5V399.7H205.74V445.5ZM205.74,445.5V419H212.61V445.5ZM212.61,445.5V433.6H219.48V445.5ZM219.48,445.5V407.6H226.35V445.5ZM226.35,445.5V430.3H233.22V445.5ZM233.22,445.5V415.1H240.09V445.5ZM240.09,445.5V437.5H246.96V445.5ZM246.96,445.5V441.1H253.83V445.5ZM253.83,445.5V430.3H260.7V445.5ZM260.7,445.5V439.1H267.57V445.5ZM267.57,445.5V433.6H274.44V445.5ZM274.44,445.5V437.5H281.31V445.5ZM281.31,445.5V437.5H288.18V445.5Z" fill="#f00"/>
<polyline points="54.75,443.98 55.75,443.89 56.75,443.79 57.75,443.7 58.75,443.59 59.75,443.48 60.75,443.37 61.75,443.25 62.75,443.13 63.75,443 64.75,442.87 65.75,442.72 66.75,442.58 67.75,442.43 68.75,442.27 69.75,442.1 70.75,441.93 71.75,441.75 72.75,441.56 73.75,441.37 74.75,441.17 75.75,440.96 76.75,440.75 77.75,440.52 78.75,440.29 79.75,440.05 80.75,439.81 81.75,439.55 82.75,439.29 83.75,439.02 84.75,438.74 85.75,438.45 86.75,438.15 87.75,437.85 88.75,437.53 89.75,437.21 90.75,436.88 91.75,436.54 92.75,436.19 93.75,435.84 94.75,435.47 95.75,435.1 96.75,434.72 97.75,434.33 98.75,433.93 99.75,433.53 100.75,433.11 101.75,432.69 102.75,432.26 103.75,431.83 104.75,431.38 105.75,430.93 106.75,430.48 107.75,430.01 108.75,429.54 109.75,429.07 110.75,428.59 111.75,428.1 112.75,427.61 113.75,427.12 114.75,426.62 115.75,426.12 116.75,425.62 117.75,425.11 118.75,424.6 119.75,424.09 120.75,423.58 121.75,423.07 122.75,422.55 123.75,422.04 124.75,421.53 125.75,421.02 126.75,420.51 127.75,420.01 128.75,419.5 129.75,419.01 130.75,418.51 131.75,418.02 132.75,417.54 133.75,417.06 134.75,416.59 135.75,416.13 136.75,415.67 137.75,415.23 138.75,414.79 139.75,414.36 140.75,413.95 141.75,413.54 142.75,413.15 143.75,412.76 144.75,412.39 145.75,412.04 146.75,411.7 147.75,411.37 148.75,411.05 149.75,410.75 150.75,410.47 151.75,410.2 152.75,409.95 153.75,409.71 154.75,409.5 155.75,409.3 156.75,409.11 157.75,408.95 158.75,408.8 159.75,408.67 160.75,408.56 161.75,408.47 162.75,408.4 163.75,408.35 164.75,408.32 165.75,408.3 166.75,408.31 167.75,408.33 168.75,408.37 169.75,408.43 170.75,408.52 171.75,408.62 172.75,408.74 173.75,408.87 174.75,409.03 175.75,409.2 176.75,409.39 177.75,409.6 178.75,409.83 179.75,410.07 180.75,410.33 181.75,410.61 182.75,410.9 183.75,411.21 184.75,411.53 185.75,411.86 186.75,412.21 187.75,412.58 188.75,412.95 189.75,413.34 190.75,413.74 191.75,414.15 192.75,414.58 193.75,415.01 194.75,415.45 195.75,415.9 196.75,416.36 197.75,416.83 198.75,417.3 199.75,417.78 200.75,418.27 201.75,418.76 202.75,419.25 203.75,419.75 204.75,420.26 205.75,420.76 206.75,421.27 207.75,421.78 208.75,422.3 209.75,422.81 210.75,423.32 211.75,423.83 212.75,424.35 213.75,424.86 214.75,425.36 215.75,425.87 216.75,426.37 217.75,426.87 218.75,427.37 219.75,427.86 220.75,428.35 221.75,428.83 222.75,429.31 223.75,429.78 224.75,430.25 225.75,430.71 226.75,431.16 227.75,431.6 228.75,432.04 229.75,432.48 230.75,432.9 231.75,433.32 232.75,433.73 233.75,434.13 234.75,434.53 235.75,434.91 236.75,435.29 237.75,435.66 238.75,436.02 239.75,436.37 240.75,436.71 241.75,437.05 242.75,437.37 243.75,437.69 244.75,438 245.75,438.3 246.75,438.59 247.75,438.88 248.75,439.15 249.75,439.42 250.75,439.68 251.75,439.93 252.75,440.17 253.75,440.41 254.75,440.63 255.75,440.85 256.75,441.07 257.75,441.27 258.75,441.47 259.75,441.66 260.75,441.84 261.75,442.01 262.75,442.18 263.75,442.35 264.75,442.5 265.75,442.65 266.75,442.8 267.75,442.93 268.75,443.07 269.75,443.19 270.75,443.31 271.75,443.43 272.75,443.54 273.75,443.65 274.75,443.75 275.75,443.84 276.75,443.93 277.75,444.02 278.75,444.1 279.75,444.18 280.75,444.26 281.75,444.33 282.75,444.4 283.75,444.46 284.75,444.53 285.75,444.58 286.75,444.64 287.75,444.69 288.75,444.74 289.75,444.79 290.75,444.83 291.75,444.87 292.75,444.91 293.75,444.95 294.75,444.99" fill="none" stroke="#111" stroke-width="1.7" stroke-linejoin="round"/>
<line x1="54.75" y1="445.5" x2="295" y2="445.5" stroke="#000" stroke-width="1.7"/>
<line x1="102.3" y1="445.5" x2="102.3" y2="448.5" stroke="#000" stroke-width="1.3"/>
<line x1="171" y1="445.5" x2="171" y2="448.5" stroke="#000" stroke-width="1.3"/>
<line x1="239.7" y1="445.5" x2="239.7" y2="448.5" stroke="#000" stroke-width="1.3"/>
<path d="M54.75,445.5V264.2H295.0V445.5" fill="none" stroke="#000" stroke-width="1.8"/>
<text x="168.9" y="312.4" font-size="15" text-anchor="middle" font-weight="normal" fill="#cc1ccc" stroke="#cc1ccc">GMP</text>
<text x="223.6" y="377.8" font-size="15" text-anchor="middle" font-weight="normal" fill="#1c1cc4" stroke="#1c1cc4">6mer</text>
<text x="267" y="425.4" font-size="15" text-anchor="middle" font-weight="normal" fill="#dd1c1c" stroke="#dd1c1c">22mer</text>
<text x="102.3" y="461" font-size="12.8" text-anchor="middle" font-weight="normal" fill="#111" stroke="#111">-2.0</text>
<text x="171" y="461" font-size="12.8" text-anchor="middle" font-weight="normal" fill="#111" stroke="#111">-1.0</text>
<text x="239.7" y="461" font-size="12.8" text-anchor="middle" font-weight="normal" fill="#111" stroke="#111">0</text>
<text x="177.8" y="480.8" font-size="14" text-anchor="middle" fill="#111" stroke="#111">Log<tspan font-size="10" dy="3">10</tspan><tspan dy="-3">(</tspan><tspan font-style="italic">t<tspan font-size="10" dy="3">d</tspan></tspan><tspan dy="-3">)</tspan></text>
<text x="38.1" y="353.8" font-size="13.3" text-anchor="middle" fill="#111" stroke="#111" transform="rotate(-90 38.1 353.8)">Counts (Arb. units)</text>
<polyline points="370,443.03 370.6,443.87 371.2,443.23 371.8,442.7 372.4,442.81 373,443.57 373.6,443.74 374.2,443.46 374.8,442.89 375.4,443.75 376,443.56 376.6,442.84 377.2,443.16 377.8,443.51 378.4,442.7 379,442.75 379.6,443.12 380.2,443.75 380.8,443.9 381.4,443.08 382,443.79 382.6,443.64 383.2,443.74 383.8,443.41 384.4,443.86 385,443.47 385.6,443.84 386.2,443.38 386.8,442.94 387.4,443.32 388,443.28 388.6,443.1 389.2,443.15 389.8,443.31 390.4,443.41 391,442.97 391.6,443.03 392.2,443.3 392.8,443.3 393.4,443.2 394,443.5 394.6,442.92 395.2,443.34 395.8,443.03 396.4,443.62 397,443.54 397.6,443.64 398.2,443.32 398.8,443 399.4,443.81 400,443.31 400.6,443.15 401.2,443.05 401.8,443.18 402.4,443.55 403,443.68 403.6,443.28 404.2,443.58 404.8,442.96 405.4,443.24 406,443.13 406.6,443.07 407.2,443.13 407.8,443.61 408.4,443.58 409,442.95 409.6,442.98 410.2,443.64 410.8,443.49 411.4,443.51 412,443.46 412.6,443.53 413.2,443.03 413.8,442.77 414.4,443.13 415,442.74 415.6,443.85 416.2,443.33 416.8,443.5 417.4,443.86 418,443.67 418.6,442.98 419.2,443.1 419.8,442.83 420.4,443.65 421,443.58 421.6,443.29 422.2,443.14 422.8,443.02 423.4,443.28 424,443.55 424.6,443.77 425.2,443.72 425.8,443.74 426.4,443.23 427,443.21 427.6,443.08 428.2,443.87 428.8,442.92 429.4,442.89 430,443.04 430.6,443.81 431.2,443.72 431.8,443.1 432.4,443.72 433,443.77 433.6,443.21 434.2,442.93 434.8,443.63 435.4,443.15 436,442.84 436.6,443.78 437.2,443.23 437.8,443.18 438.4,443.41 439,443.01 439.6,442.72 440.2,443.17 440.8,443.16 441.4,442.71 442,443.15 442.6,443.61 443.2,443.1" fill="none" stroke="#c22" stroke-width="1.2" stroke-linejoin="miter"/>
<polyline points="480.3,443.12 480.9,443.05 481.5,442.53 482.1,442.32 482.7,443.11 483.3,443.03 483.9,442.65 484.5,442.54 485.1,443.33 485.7,443.39 486.3,442.58 486.9,443 487.5,442.99 488.1,442.69 488.7,442.34 489.3,442.69" fill="none" stroke="#c22" stroke-width="1.2" stroke-linejoin="miter"/>
<line x1="480.5" y1="443.3" x2="480.5" y2="436" stroke="#e11" stroke-width="0.9"/>
<line x1="489.4" y1="443.3" x2="489.4" y2="436" stroke="#e11" stroke-width="0.9"/>
<polyline points="619.5,442.5 629.3,442.5 629.5,437.3 629.8,443.8 672.5,444" fill="none" stroke="#c44" stroke-width="0.9" stroke-linejoin="miter"/>
<polygon points="443.4,398.6 444,397.84 444.6,396.18 445.2,389.2 445.8,390.83 446.4,392.6 447,394.5 447.6,393.54 448.2,403.24 448.8,389.09 449.4,404.76 450,391.33 450.6,402.42 451.2,391.38 451.8,397.57 452.4,393.79 453,387.68 453.6,401.34 454.2,401.59 454.8,391.85 455.4,400.97 456,395.62 456.6,404.77 457.2,387.98 457.8,393.85 458.4,391.1 459,398.25 459.6,401 460.2,402.16 460.8,396.87 461.4,393.97 462,401.39 462.6,388.88 463.2,391.68 463.8,400.55 464.4,394.93 465,404.87 465.6,392.6 466.2,405.8 466.8,419 467.4,405.8 468,392.6 468.6,388.64 469.2,393.64 469.8,394.79 470.4,396.14 471,392.21 471.6,399.64 472.2,396.29 472.8,404.67 473.4,390.05 474,396.19 474.6,395.89 475.2,393.69 475.8,402.5 476.4,390.77 477,402.8 477.6,393.44 478.2,393.04 478.8,398.07 479.4,397.14 480,392.11 479.9,440.33 479.4,440.67 478.9,440.5 478.4,440.98 477.9,439.06 477.4,436.62 476.9,435.14 476.4,434.35 475.9,434.08 475.4,434.56 474.9,435.8 474.4,436.36 473.9,438.23 473.4,439.63 472.9,440.19 472.4,438.3 471.9,437.23 471.4,438.58 470.9,439.92 470.4,439.99 469.9,437.53 469.4,436.16 468.9,434.94 468.4,434.74 467.9,434.45 467.4,436.59 466.9,438.52 466.4,438.5 465.9,437.18 465.4,436.84 464.9,437.21 464.4,437.04 463.9,437.86 463.4,438.77 462.9,440.05 462.4,438.58 461.9,437.38 461.4,436.33 460.9,436.83 460.4,437.49 459.9,437.32 459.4,437.79 458.9,437.49 458.4,438.24 457.9,438.48 457.4,438.62 456.9,438.98 456.4,438.6 455.9,438.32 455.4,438.2 454.9,437.71 454.4,439.19 453.9,440.87 453.4,440.51 452.9,438.67 452.4,436.45 451.9,435.85 451.4,435.96 450.9,436.32 450.4,437.38 449.9,439.01 449.4,438.21 448.9,437.28 448.4,436.67 447.9,436.2 447.4,436.33 446.9,437.11 446.4,437.29 445.9,438.24 445.4,439.16 444.9,440.49 444.4,440.46 443.9,437.28 443.4,434.74" fill="#f00" stroke="none" stroke-width="0"/>
<polygon points="489.6,391.1 490.2,388.65 490.8,403.65 491.4,396.94 492,398.02 492.6,402.52 493.2,389.58 493.8,399.59 494.4,395.35 495,401.15 495.6,395.21 496.2,390.54 496.8,404.21 497.4,392.06 498,400.41 498.6,401.96 499.2,391.46 499.8,399.51 500.4,394.13 501,391.03 501.6,390.91 502.2,404.17 502.8,393.63 503.4,396.18 504,396.02 504.6,387.48 505.2,400.56 505.8,400.41 506.4,402.77 507,393.42 507.6,390.78 508.2,393.25 508.8,400.18 509.4,398.84 510,394.31 510.6,396.44 511.2,389.77 511.8,403.53 512.4,395.49 513,396.12 513.6,401.17 514.2,390.56 514.8,400 515.4,393.36 516,401.62 516.6,388.7 517.2,391.97 517.8,398.44 518.4,395.68 519,393.78 519.6,397.42 520.2,390.92 520.8,394.87 521.4,387.03 522,401.38 522.6,391.57 523.2,401.95 523.8,396.94 524.4,397.83 525,398.27 525.6,389.26 526.2,400.99 526.8,392.26 527.4,402.53 528,401.15 528.6,399.21 529.2,401.67 529.8,394.86 530.4,399.12 531,404.15 531.6,390.4 532.2,388.81 532.8,394.41 533.4,396.17 534,389.68 534.6,390.98 535.2,402.6 535.8,393.98 536.4,389.68 537,390.29 537.6,397.39 538.2,390.42 538.8,395.55 539.4,396.68 540,394.91 540.6,396.07 541.2,402.06 541.8,387.3 542.4,403.74 543,390.59 543.6,387.69 544.2,400.82 544.8,397.26 545.4,396.68 546,390.92 546.6,401.06 547.2,392.52 547.8,400.08 548.4,391.11 549,397.31 549.6,398.67 550.2,393.69 550.8,395.64 551.4,388.17 552,398.58 552.6,402.8 553.2,389.76 553.8,396.91 554.4,400.2 555,388.82 555.6,402.1 556.2,402.67 556.8,387.91 557.4,391.47 558,388.51 558.6,391.55 559.2,388.55 559.8,395.81 560.4,391.51 561,392.4 561.6,395.31 562.2,393.69 562.8,401.19 563.4,400.01 564,389.05 564.6,391.02 565.2,387.15 565.8,392.93 566.4,388.95 567,399.55 567.6,401.05 568.2,404.92 568.8,390.76 569.4,387.66 570,400.62 570.6,399.4 571.2,407.8 571.8,407.8 572.4,399.4 573,391 573.6,404.06 574.2,396.22 574.8,394.93 575.4,394.87 576,400.83 576.6,401.95 577.2,395.57 577.8,390.21 578.4,394.31 579,403.04 579.6,394.34 580.2,398.9 580.8,397.07 581.4,395.3 582,397.35 582.6,391.41 583.2,397.03 583.8,402.57 584.4,388.44 585,393.64 585.6,402.85 586.2,404.61 586.8,387.24 587.4,398.29 588,398.38 588.6,402.18 589.2,395.46 589.8,389.36 590.4,392.4 591,399.83 591.6,400.11 592.2,390.68 592.8,398.57 593.4,398.82 594,398.84 594.6,387.39 595.2,394.95 595.8,392.85 596.4,397.75 597,393.06 597.6,389.31 598.2,402 598.8,420 599.4,414 600,396 600.6,396.83 601.2,401.55 601.8,389.08 602.4,400.16 603,388.23 603.6,403.85 604.2,387.45 604.8,400.03 605.4,393.64 606,390.23 606.6,394.11 607.2,396.02 607.8,394.47 608.4,389.2 609,396.41 609.6,392.4 610.2,404.41 610.8,393.9 611.4,394.84 612,391.1 612.6,404.44 613.2,392.79 613.8,398.63 614.4,401.99 615,394.08 615.6,400.6 616.2,392.02 616.8,388.97 617.4,387.76 618,395.08 618.6,402.73 619.2,390.65 619.1,435.28 618.6,434.47 618.1,438.01 617.6,441.01 617.1,439.08 616.6,437.03 616.1,434.82 615.6,436.69 615.1,438.06 614.6,437.52 614.1,436.35 613.6,434.39 613.1,437.36 612.6,439.55 612.1,440.82 611.6,440.69 611.1,440.2 610.6,439.09 610.1,437.18 609.6,435.73 609.1,437.26 608.6,437.81 608.1,437.39 607.6,437.46 607.1,436.66 606.6,438.09 606.1,440.5 605.6,440.85 605.1,439.81 604.6,438.44 604.1,438.93 603.6,439.44 603.1,439.3 602.6,439.83 602.1,440.07 601.6,439.92 601.1,440.02 600.6,439.87 600.1,437.75 599.6,434.81 599.1,434.02 598.6,436.31 598.1,437.5 597.6,439.43 597.1,440.61 596.6,441.06 596.1,437.97 595.6,435.12 595.1,435.69 594.6,438.34 594.1,441.06 593.6,439.65 593.1,437.47 592.6,436.33 592.1,436.51 591.6,436.08 591.1,437.63 590.6,439.64 590.1,440.7 589.6,440.13 589.1,439.14 588.6,439.49 588.1,439.86 587.6,439.64 587.1,438.1 586.6,435.4 586.1,435.72 585.6,437.56 585.1,439.29 584.6,438.78 584.1,437.82 583.6,436.29 583.1,436.17 582.6,435.88 582.1,436.38 581.6,437.01 581.1,438.46 580.6,438.64 580.1,438.71 579.6,438.58 579.1,436.76 578.6,434.83 578.1,434.7 577.6,434.83 577.1,435.13 576.6,436.02 576.1,437.23 575.6,438.11 575.1,437.76 574.6,437.49 574.1,438.66 573.6,439.36 573.1,440.06 572.6,440.56 572.1,441.38 571.6,440.44 571.1,438.51 570.6,437.06 570.1,436.24 569.6,434.99 569.1,435.2 568.6,436.14 568.1,437.63 567.6,437.51 567.1,437.79 566.6,438.54 566.1,439.77 565.6,440.53 565.1,439.94 564.6,439.07 564.1,438.73 563.6,437.88 563.1,437.83 562.6,437.97 562.1,439.64 561.6,441.49 561.1,440.51 560.6,440.05 560.1,439.1 559.6,438.03 559.1,437.2 558.6,437.62 558.1,438.83 557.6,440.58 557.1,440 556.6,440.09 556.1,439.21 555.6,437.1 555.1,435.27 554.6,435.11 554.1,435.1 553.6,435.47 553.1,437.07 552.6,438.99 552.1,439.94 551.6,440.21 551.1,440.5 550.6,438.92 550.1,436.87 549.6,436.11 549.1,436.33 548.6,436.01 548.1,435.53 547.6,434.52 547.1,434.58 546.6,435.05 546.1,435.56 545.6,436.69 545.1,438.87 544.6,440.5 544.1,437.05 543.6,434.67 543.1,433.86 542.6,435.07 542.1,436.03 541.6,435.75 541.1,435.4 540.6,435.56 540.1,434.76 539.6,434.8 539.1,434.75 538.6,434.47 538.1,435.18 537.6,437.25 537.1,439.7 536.6,439.24 536.1,437.97 535.6,436.44 535.1,438.19 534.6,439.63 534.1,440.58 533.6,440.31 533.1,439.38 532.6,439.1 532.1,438.4 531.6,437.92 531.1,439.04 530.6,441.05 530.1,441.06 529.6,439.69 529.1,438.64 528.6,438.42 528.1,439.08 527.6,438.85 527.1,438.08 526.6,437.19 526.1,437.45 525.6,438.43 525.1,439.59 524.6,438.89 524.1,438.69 523.6,438.76 523.1,438 522.6,437.08 522.1,436.16 521.6,435.75 521.1,435.28 520.6,436.82 520.1,437.74 519.6,437.57 519.1,435.83 518.6,435.99 518.1,438.19 517.6,440.8 517.1,441.5 516.6,441.78 516.1,441.45 515.6,440.12 515.1,438.13 514.6,436.65 514.1,437.58 513.6,437.62 513.1,438.69 512.6,439.44 512.1,439.54 511.6,438.05 511.1,436.68 510.6,435.98 510.1,436.86 509.6,437 509.1,438.15 508.6,438.8 508.1,438.43 507.6,436.61 507.1,434.36 506.6,435.06 506.1,436.23 505.6,436.4 505.1,435.87 504.6,434.52 504.1,434.73 503.6,434.7 503.1,435.86 502.6,436.78 502.1,437.13 501.6,437.23 501.1,436.18 500.6,434.25 500.1,435.01 499.6,436.17 499.1,437.41 498.6,438.12 498.1,438.78 497.6,439.57 497.1,440.42 496.6,440.79 496.1,439.06 495.6,436.95 495.1,435.39 494.6,435.06 494.1,434.12 493.6,436.39 493.1,438.74 492.6,440.42 492.1,438.19 491.6,435.58 491.1,436.36 490.6,437.87 490.1,439.87 489.6,438.66" fill="#f00" stroke="none" stroke-width="0"/>
<path d="M443.4,434.7V346.95M443.82,437V349.76M444.24,439.73V357.87M444.66,441.31V374.99M445.08,440.46V359.25M445.5,439.17V366.69M445.92,438.15V366.6M446.34,437.25V392.78M446.76,436.64V371.01M447.18,436.7V385.3M447.6,436.64V394.05M448.02,436.16V371.72M448.44,436.85V371.18M448.86,437.12V391.69M449.28,438.23V370.6M449.7,439.02V376.7M450.12,438.01V379.79M450.54,436.81V366.8M450.96,436.18V380.16M451.38,436.1V375.47M451.8,436.19V372.64M452.22,436.32V377.11M452.64,437.78V360.87M453.06,439.51V357.79M453.48,440.98V339.75M453.9,441V374.1M454.32,439.79V333.55M454.74,438.27V351.27M455.16,438.15V352.62M455.58,438.59V350.56M456,438.72V318.5M456.42,439.28V340.03M456.84,439.14V311.2M457.26,438.66V304.86M457.68,438.57V320.8M458.1,438.13V309.66M458.52,438V341.65M458.94,438.08V327.77M459.36,437.59V331.51M459.78,437.65V367.8M460.2,437.49V319.86M460.62,436.84V348.22M461.04,436.67V341.17M461.46,436.03V359.67M461.88,437.64V351.71M462.3,438.24V377.37M462.72,440.07V345.01M463.14,439.23V348.01M463.56,438.01V363.94M463.98,437.64V360.46M464.4,436.92V366.2M464.82,437V375.44M465.24,436.65V384.68M465.66,437.16V393.92M466.08,437.61V403.16M466.5,438.55V412.4M466.92,438.34V416.36M467.34,436.37V407.12M467.76,435.19V397.88M468.18,434.25V388.64M468.6,435.03V386.17M469.02,435.68V371.28M469.44,436.13V360.92M469.86,437.61V354.44M470.28,439.47V371.28M470.7,440.53V346.64M471.12,439.42V381.51M471.54,438V342.3M471.96,437.13V344.84M472.38,438.69V328.29M472.8,439.82V346.71M473.22,440.41V347.37M473.64,439.33V316.14M474.06,437.97V321.64M474.48,436.52V333.72M474.9,435.55V356.61M475.32,435.18V353.79M475.74,434.48V368.93M476.16,434.11V342.62M476.58,434.63V374.95M477,435.2V346.22M477.42,436.46V361.54M477.84,438.76V344.13M478.26,440.22V369.23M478.68,441.15V357.73M479.1,440.39V331.41M479.52,440.07V322.72M479.94,439.84V351.39" stroke="#f00" stroke-width="0.8" fill="none"/>
<path d="M489.6,438.68V364.62M490.02,439.87V349.23M490.44,438.78V338.97M490.86,436.64V359.69M491.28,434.99V347.21M491.7,435.89V338.32M492.12,438.26V368.66M492.54,440.21V366.98M492.96,439.48V355.47M493.38,437.42V377.84M493.8,434.66V373.89M494.22,433.99V362.71M494.64,435.06V387.92M495.06,435.89V385.48M495.48,436.66V351.1M495.9,438.31V349.99M496.32,439.84V355.01M496.74,440.69V352.48M497.16,440.64V360.79M497.58,439.57V349.88M498,439.17V361.38M498.42,438.88V379.66M498.84,437.94V348.81M499.26,437.58V374.34M499.68,436.29V398.13M500.1,435.4V340.86M500.52,434.68V327.65M500.94,435.64V370.84M501.36,436.25V336.08M501.78,438.04V336.68M502.2,437.51V368.27M502.62,436.18V366.27M503.04,435.53V330.57M503.46,435.33V322.87M503.88,435.01V350.54M504.3,433.76V350.94M504.72,435.08V375.68M505.14,435.3V343.85M505.56,436.62V363.58M505.98,436.58V366.66M506.4,435.24V361M506.82,434.63V347.72M507.24,435.13V317.46M507.66,436.63V307.06M508.08,438.45V332.14M508.5,439.49V349.3M508.92,438.56V311.7M509.34,437.49V321.73M509.76,437.09V355.51M510.18,436.41V331.66M510.6,436.7V331.84M511.02,436.12V356.03M511.44,437.88V326.11M511.86,439.14V333.88M512.28,440.15V325.16M512.7,439.31V318.21M513.12,438.41V336.01M513.54,437.63V332.88M513.96,437.28V341.85M514.38,436.64V363.26M514.8,436.74V349.65M515.22,437.89V362.27M515.64,439.71V332.96M516.06,441.14V364.85M516.48,441.35V343.75M516.9,441.69V351.95M517.32,441.59V374.68M517.74,439.44V344.56M518.16,437.96V338.99M518.58,435.48V375.4M519,436.19V380.84M519.42,437.23V344.64M519.84,437.89V380.95M520.26,437.89V372.5M520.68,436.32V376.97M521.1,435.38V381M521.52,435.61V371.16M521.94,436.56V355.8M522.36,436.65V347.88M522.78,437.73V345.62M523.2,437.84V366.26M523.62,438.76V352.75M524.04,438.84V351.42M524.46,439.34V368.8M524.88,439.13V374.35M525.3,438.8V387.31M525.72,438.13V391.52M526.14,437.46V378.78M526.56,437.24V358.91M526.98,437.53V348.81M527.4,438.68V361.34M527.82,439V365.78M528.24,438.93V352.41M528.66,438.36V373.45M529.08,438.32V361.7M529.5,439.18V365.52M529.92,440V384.61M530.34,441.04V385.83M530.76,440.16V383.7M531.18,439.16V362.73M531.6,437.41V365.18M532.02,437.73V380.08M532.44,438.53V364.15M532.86,439.45V350.5M533.28,440.14V379.85M533.7,439.88V347.88M534.12,440.93V363.59M534.54,439.71V367.84M534.96,438.6V346.72M535.38,436.62V354.47M535.8,436.92V362.7M536.22,438.18V355.79M536.64,439.37V353.65M537.06,439.56V344.76M537.48,437.74V361.04M537.9,436.16V346.29M538.32,435.15V340.05M538.74,434.96V369.41M539.16,434.64V366.23M539.58,434.34V369.46M540,434.51V350.1M540.42,435.07V351.11M540.84,435.31V360.07M541.26,435.36V373.5M541.68,435.91V369.51M542.1,435.75V361.26M542.52,435.6V356.52M542.94,434.57V363.98M543.36,433.47V373.58M543.78,435.59V364.37M544.2,437.67V380.37M544.62,440.47V373.41M545.04,439.02V393.26M545.46,437.53V377.53M545.88,435.92V369.84M546.3,435.09V389.44M546.72,435.19V373.07M547.14,434.47V373.14M547.56,434.7V371.63M547.98,435.29V367.39M548.4,435.19V397.21M548.82,436.04V399.89M549.24,436.16V377.81M549.66,436.13V375.86M550.08,437.33V393.64M550.5,438.61V370.96M550.92,439.32V404.15M551.34,440.14V379.48M551.76,439.74V388.72M552.18,439.81V397.96M552.6,439.33V402.8M553.02,437.37V393.56M553.44,436.33V384.32M553.86,435.03V375.08M554.28,435.22V369.27M554.7,435.39V384.56M555.12,435.52V365.34M555.54,436.97V366.53M555.96,438.75V363.78M556.38,439.61V372.53M556.8,439.88V362.66M557.22,440.49V373.25M557.64,440.21V361.57M558.06,439.14V360.62M558.48,438.27V352.07M558.9,436.8V382.23M559.32,437.71V375.25M559.74,437.99V362.94M560.16,438.92V402.26M560.58,439.64V386.33M561,440.49V391.16M561.42,441.2V381.63M561.84,440.39V384.37M562.26,439.4V378.01M562.68,438.35V358.82M563.1,437.58V356.52M563.52,438.39V361.41M563.94,438.3V387.88M564.36,438.65V371.63M564.78,440.01V386.19M565.2,440.14V390.16M565.62,440.27V375.07M566.04,439.95V374.87M566.46,438.4V391.13M566.88,437.98V375.77M567.3,437.85V389.61M567.72,437.43V375.35M568.14,437.49V364.96M568.56,436.08V370.84M568.98,435.55V376.72M569.4,434.81V382.6M569.82,436.1V388.48M570.24,436.38V394.36M570.66,437.64V400.24M571.08,438.75V406.12M571.5,439.87V412M571.92,441.56V406.12M572.34,440.98V400.24M572.76,440.35V394.36M573.18,440.16V388.48M573.6,439.79V382.6M574.02,438.61V376.72M574.44,437.6V380.69M574.86,437.46V376.97M575.28,437.99V359.08M575.7,437.93V386.05M576.12,436.94V372.94M576.54,436.91V367.28M576.96,435.88V388.59M577.38,435.05V381.86M577.8,434.56V380.31M578.22,434.24V388.33M578.64,434.37V366.83M579.06,436.29V372.75M579.48,438.22V395.27M579.9,438.95V384.63M580.32,438.91V370.23M580.74,438.71V372.03M581.16,438.28V379.56M581.58,437.44V362.69M582,436.65V390.25M582.42,435.91V389.34M582.84,436.41V386.55M583.26,436.13V367.43M583.68,436.32V360.4M584.1,437.77V374.62M584.52,438.66V358.47M584.94,439.09V383.2M585.36,438.31V366.96M585.78,436.5V357.89M586.2,435.03V378.94M586.62,436.07V390.21M587.04,437.41V396.36M587.46,439.09V414.61M587.88,439.34V376.52M588.3,439.43V388.34M588.72,439.55V381.16M589.14,439.59V360.79M589.56,439.64V383.69M589.98,440.47V365.94M590.4,440.21V354.74M590.82,438.48V370.86M591.24,437.33V344.74M591.66,436V377.21M592.08,436.39V346.34M592.5,435.86V371.04M592.92,437.02V345.63M593.34,438.59V368.56M593.76,439.44V363.98M594.18,440.89V351.69M594.6,438.52V343.93M595.02,435.62V344.53M595.44,433.94V372.42M595.86,436.21V349.74M596.28,439.05V354.15M596.7,441.76V377.06M597.12,440.59V381.98M597.54,439.08V382.2M597.96,438.14V394.8M598.38,436.39V407.4M598.8,434.99V420M599.22,434.07V419.4M599.64,435.64V406.8M600.06,437.49V394.2M600.48,439.21V386.6M600.9,439.84V369M601.32,439.77V373.4M601.74,440.14V368.61M602.16,440.12V365.15M602.58,439.65V356.05M603,439.2V352.41M603.42,439.34V369.25M603.84,438.9V373.4M604.26,438.5V360.94M604.68,438.63V367.11M605.1,439.68V352.71M605.52,441.03V372.59M605.94,440.47V361.62M606.36,439.23V351.89M606.78,437.97V358.79M607.2,436.62V374.61M607.62,437.27V369.93M608.04,437.6V371.41M608.46,438.34V395.32M608.88,436.97V359.41M609.3,436.42V387.99M609.72,436.16V359.24M610.14,437.21V351.77M610.56,438.7V358.3M610.98,440.66V376.52M611.4,440.54V369.67M611.82,441.23V355.8M612.24,441.2V369.51M612.66,439.12V368.42M613.08,437.61V363.88M613.5,434.97V372.79M613.92,435.27V377.21M614.34,436.45V358.4M614.76,438.04V374.09M615.18,437.94V371.66M615.6,436.46V367.33M616.02,435.3V355.37M616.44,436.35V356.84M616.86,437.86V351.89M617.28,439.98V360.61M617.7,440.29V365.31M618.12,437.8V352.32M618.54,435.39V333.01M618.96,434.38V340.6M619.38,436.29V351.28" stroke="#f00" stroke-width="0.8" fill="none"/>
<line x1="445.8" y1="436" x2="445.8" y2="291.2" stroke="#f00" stroke-width="0.75"/>
<line x1="448.4" y1="436" x2="448.4" y2="333.2" stroke="#f00" stroke-width="0.75"/>
<line x1="451.6" y1="436" x2="451.6" y2="350" stroke="#f00" stroke-width="0.75"/>
<line x1="455.4" y1="436" x2="455.4" y2="313.9" stroke="#f00" stroke-width="0.75"/>
<line x1="457.5" y1="436" x2="457.5" y2="304" stroke="#f00" stroke-width="0.75"/>
<line x1="460" y1="436" x2="460" y2="290" stroke="#f00" stroke-width="0.75"/>
<line x1="460.6" y1="436" x2="460.6" y2="309.8" stroke="#f00" stroke-width="0.75"/>
<line x1="462" y1="436" x2="462" y2="318" stroke="#f00" stroke-width="0.75"/>
<line x1="463.3" y1="436" x2="463.3" y2="321.3" stroke="#f00" stroke-width="0.75"/>
<line x1="471" y1="436" x2="471" y2="320.5" stroke="#f00" stroke-width="0.75"/>
<line x1="474.4" y1="436" x2="474.4" y2="301.8" stroke="#f00" stroke-width="0.75"/>
<line x1="476.8" y1="436" x2="476.8" y2="317.7" stroke="#f00" stroke-width="0.75"/>
<line x1="478.5" y1="436" x2="478.5" y2="321.3" stroke="#f00" stroke-width="0.75"/>
<line x1="480" y1="436" x2="480" y2="332.9" stroke="#f00" stroke-width="0.75"/>
<line x1="490" y1="436" x2="490" y2="320.5" stroke="#f00" stroke-width="0.75"/>
<line x1="494.2" y1="436" x2="494.2" y2="324.6" stroke="#f00" stroke-width="0.75"/>
<line x1="499.3" y1="436" x2="499.3" y2="292" stroke="#f00" stroke-width="0.75"/>
<line x1="501.5" y1="436" x2="501.5" y2="311" stroke="#f00" stroke-width="0.75"/>
<line x1="510.1" y1="436" x2="510.1" y2="301.6" stroke="#f00" stroke-width="0.75"/>
<line x1="512.3" y1="436" x2="512.3" y2="282.1" stroke="#f00" stroke-width="0.75"/>
<line x1="516" y1="436" x2="516" y2="310" stroke="#f00" stroke-width="0.75"/>
<line x1="522.6" y1="436" x2="522.6" y2="306.3" stroke="#f00" stroke-width="0.75"/>
<line x1="525.3" y1="436" x2="525.3" y2="313.2" stroke="#f00" stroke-width="0.75"/>
<line x1="527.2" y1="436" x2="527.2" y2="302" stroke="#f00" stroke-width="0.75"/>
<line x1="538.4" y1="436" x2="538.4" y2="331.4" stroke="#f00" stroke-width="0.75"/>
<line x1="541.2" y1="436" x2="541.2" y2="273.7" stroke="#f00" stroke-width="0.75"/>
<line x1="547.7" y1="436" x2="547.7" y2="317.4" stroke="#f00" stroke-width="0.75"/>
<line x1="557.3" y1="436" x2="557.3" y2="330.5" stroke="#f00" stroke-width="0.75"/>
<line x1="564.3" y1="436" x2="564.3" y2="303.9" stroke="#f00" stroke-width="0.75"/>
<line x1="567.7" y1="436" x2="567.7" y2="324.3" stroke="#f00" stroke-width="0.75"/>
<line x1="575.5" y1="436" x2="575.5" y2="299.8" stroke="#f00" stroke-width="0.75"/>
<line x1="580.1" y1="436" x2="580.1" y2="313.2" stroke="#f00" stroke-width="0.75"/>
<line x1="584" y1="436" x2="584" y2="328.6" stroke="#f00" stroke-width="0.75"/>
<line x1="587" y1="436" x2="587" y2="328.6" stroke="#f00" stroke-width="0.75"/>
<line x1="592.2" y1="436" x2="592.2" y2="315.6" stroke="#f00" stroke-width="0.75"/>
<line x1="598.7" y1="436" x2="598.7" y2="313.2" stroke="#f00" stroke-width="0.75"/>
<line x1="601.1" y1="436" x2="601.1" y2="298.8" stroke="#f00" stroke-width="0.75"/>
<line x1="604.3" y1="436" x2="604.3" y2="330.5" stroke="#f00" stroke-width="0.75"/>
<line x1="610.8" y1="436" x2="610.8" y2="334.2" stroke="#f00" stroke-width="0.75"/>
<line x1="618.3" y1="436" x2="618.3" y2="333.3" stroke="#f00" stroke-width="0.75"/>
<rect x="369.5" y="264.1" width="303.5" height="182.0" fill="none" stroke="#000" stroke-width="1.75"/>
<line x1="369.5" y1="446.1" x2="373.7" y2="446.1" stroke="#000" stroke-width="1.6"/>
<text x="356.4" y="450.55" font-size="12.8" text-anchor="middle" font-weight="normal" fill="#111" stroke="#111">0</text>
<line x1="369.5" y1="415.77" x2="373.7" y2="415.77" stroke="#000" stroke-width="1.6"/>
<text x="356.4" y="420.12" font-size="12.8" text-anchor="middle" font-weight="normal" fill="#111" stroke="#111">1</text>
<line x1="369.5" y1="385.43" x2="373.7" y2="385.43" stroke="#000" stroke-width="1.6"/>
<text x="356.4" y="389.68" font-size="12.8" text-anchor="middle" font-weight="normal" fill="#111" stroke="#111">2</text>
<line x1="369.5" y1="355.1" x2="373.7" y2="355.1" stroke="#000" stroke-width="1.6"/>
<text x="356.4" y="359.25" font-size="12.8" text-anchor="middle" font-weight="normal" fill="#111" stroke="#111">3</text>
<line x1="369.5" y1="324.77" x2="373.7" y2="324.77" stroke="#000" stroke-width="1.6"/>
<text x="356.4" y="328.82" font-size="12.8" text-anchor="middle" font-weight="normal" fill="#111" stroke="#111">4</text>
<line x1="369.5" y1="294.43" x2="373.7" y2="294.43" stroke="#000" stroke-width="1.6"/>
<text x="356.4" y="298.38" font-size="12.8" text-anchor="middle" font-weight="normal" fill="#111" stroke="#111">5</text>
<line x1="369.5" y1="264.1" x2="373.7" y2="264.1" stroke="#000" stroke-width="1.6"/>
<text x="356.4" y="267.95" font-size="12.8" text-anchor="middle" font-weight="normal" fill="#111" stroke="#111">6</text>
<text x="369.8" y="461.2" font-size="12.8" text-anchor="middle" font-weight="normal" fill="#111" stroke="#111">0</text>
<text x="673.5" y="461" font-size="12.8" text-anchor="middle" font-weight="normal" fill="#111" stroke="#111">175</text>
<text x="522" y="480.9" font-size="14" text-anchor="middle" fill="#111" stroke="#111"><tspan font-style="italic">t</tspan> (s)</text>
<text x="328.3" y="355.2" font-size="15.5" text-anchor="middle" fill="#111" stroke="#111" transform="rotate(-90 328.3 355.2)"><tspan font-style="italic">I</tspan> (nA)</text>
<defs><linearGradient id="gd" x1="0" y1="0" x2="1" y2="0"><stop offset="0" stop-color="#aca400"/><stop offset="0.35" stop-color="#cdc800"/><stop offset="0.78" stop-color="#e2e000"/><stop offset="1" stop-color="#c9c400"/></linearGradient><linearGradient id="gv" x1="0" y1="0" x2="0" y2="1"><stop offset="0" stop-color="#000" stop-opacity="0"/><stop offset="0.6" stop-color="#000" stop-opacity="0"/><stop offset="1" stop-color="#000" stop-opacity="0.12"/></linearGradient></defs>
<rect x="579.6" y="280.1" width="38.2" height="13.6" fill="url(#gd)"/>
<rect x="579.6" y="280.1" width="38.2" height="13.6" fill="url(#gv)"/>
<rect x="625.3" y="280.1" width="38.3" height="13.6" fill="url(#gd)"/>
<rect x="625.3" y="280.1" width="38.3" height="13.6" fill="url(#gv)"/>
<rect x="580" y="272.9" width="83.1" height="3" fill="#000"/>
<rect x="585.6" y="275.5" width="3.4" height="4.6" fill="#000"/>
<rect x="591.85" y="275.5" width="3.4" height="4.6" fill="#000"/>
<rect x="598.1" y="275.5" width="3.4" height="4.6" fill="#000"/>
<rect x="604.35" y="275.5" width="3.4" height="4.6" fill="#000"/>
<rect x="610.6" y="275.5" width="3.4" height="4.6" fill="#000"/>
<rect x="616.85" y="275.5" width="3.4" height="4.6" fill="#000"/>
<rect x="623.1" y="275.5" width="3.4" height="4.6" fill="#000"/>
<rect x="629.35" y="275.5" width="3.4" height="4.6" fill="#000"/>
<rect x="635.6" y="275.5" width="3.4" height="4.6" fill="#000"/>
<rect x="641.85" y="275.5" width="3.4" height="4.6" fill="#000"/>
<rect x="648.1" y="275.5" width="3.4" height="4.6" fill="#000"/>
<rect x="654.35" y="275.5" width="3.4" height="4.6" fill="#000"/>
</svg></body></html>
